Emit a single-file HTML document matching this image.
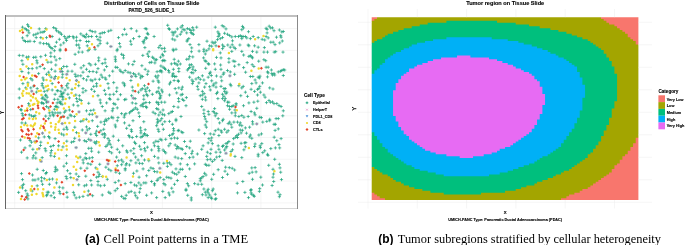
<!DOCTYPE html>
<html><head><meta charset="utf-8"><title>Figure</title>
<style>html,body{margin:0;padding:0;background:#fff}svg{display:block}</style>
</head><body>
<svg width="685" height="245" viewBox="0 0 685 245">
<rect x="0" y="0" width="685" height="245" fill="#fff"/>
<path d="M14.7,15.7V208.5M64,15.7V208.5M113.2,15.7V208.5M162.4,15.7V208.5M211.7,15.7V208.5M260.9,15.7V208.5M5.5,28.6H297.5M5.5,50.4H297.5M5.5,72.2H297.5M5.5,94H297.5M5.5,115.8H297.5M5.5,137.5H297.5M5.5,159.3H297.5M5.5,181.1H297.5M5.5,202.9H297.5" stroke="#ececec" stroke-width="0.5" fill="none"/>
<path d="M20.9,27.2h3.2M22.5,25.6v3.2M26,24.7h3.2M27.6,23.1v3.2M27,26.4h3.2M28.6,24.8v3.2M23.4,28.6h3.2M25,27v3.2M24.9,29.7h3.2M26.5,28.1v3.2M26.6,30.7h3.2M28.2,29.1v3.2M27.4,32.9h3.2M29,31.3v3.2M25.6,35.7h3.2M27.2,34.1v3.2M20.9,37.9h3.2M22.5,36.3v3.2M22.4,40.5h3.2M24,38.9v3.2M23.9,41.5h3.2M25.5,39.9v3.2M26.3,41.5h3.2M27.9,39.9v3.2M28.4,41.2h3.2M30,39.6v3.2M32.7,41.5h3.2M34.3,39.9v3.2M32,35h3.2M33.6,33.4v3.2M34.2,34.3h3.2M35.8,32.7v3.2M36.3,33.3h3.2M37.9,31.7v3.2M34.6,37.6h3.2M36.2,36v3.2M37.7,28.9h3.2M39.3,27.3v3.2M39.2,32.2h3.2M40.8,30.6v3.2M41.3,32.2h3.2M42.9,30.6v3.2M39.2,37.6h3.2M40.8,36v3.2M44.2,28.6h3.2M45.8,27v3.2M42.7,31.5h3.2M44.3,29.9v3.2M44.9,37.6h3.2M46.5,36v3.2M50.6,36.5h3.2M52.2,34.9v3.2M52,27.6h3.2M53.6,26v3.2M54.2,28.6h3.2M55.8,27v3.2M54.9,30.7h3.2M56.5,29.1v3.2M57,31.9h3.2M58.6,30.3v3.2M58.5,32.9h3.2M60.1,31.3v3.2M59.9,34.3h3.2M61.5,32.7v3.2M57.8,39.3h3.2M59.4,37.7v3.2M54.9,42.2h3.2M56.5,40.6v3.2M38.5,42.9h3.2M40.1,41.3v3.2M42,43.6h3.2M43.6,42v3.2M44.9,43.6h3.2M46.5,42v3.2M47,44.3h3.2M48.6,42.7v3.2M47.8,46.2h3.2M49.4,44.6v3.2M49.2,47.6h3.2M50.8,46v3.2M50.6,48.6h3.2M52.2,47v3.2M53.5,46.5h3.2M55.1,44.9v3.2M59.2,45h3.2M60.8,43.4v3.2M62.1,42.9h3.2M63.7,41.3v3.2M62.8,36.5h3.2M64.4,34.9v3.2M64.2,38.6h3.2M65.8,37v3.2M64.9,40.5h3.2M66.5,38.9v3.2M66.3,37.2h3.2M67.9,35.6v3.2M67.8,36.5h3.2M69.4,34.9v3.2M71.4,36.5h3.2M73,34.9v3.2M72.1,37.9h3.2M73.7,36.3v3.2M74.9,37.2h3.2M76.5,35.6v3.2M74.9,40.8h3.2M76.5,39.2v3.2M78.5,40.5h3.2M80.1,38.9v3.2M74.9,45h3.2M76.5,43.4v3.2M77.1,45h3.2M78.7,43.4v3.2M77.8,47.9h3.2M79.4,46.3v3.2M79.2,33.9h3.2M80.8,32.3v3.2M81.4,35.7h3.2M83,34.1v3.2M82.8,36.5h3.2M84.4,34.9v3.2M84.2,37.2h3.2M85.8,35.6v3.2M84.9,34.3h3.2M86.5,32.7v3.2M87.1,36.5h3.2M88.7,34.9v3.2M90,36.5h3.2M91.6,34.9v3.2M88.5,30.5h3.2M90.1,28.9v3.2M90.7,31.5h3.2M92.3,29.9v3.2M93.5,31.9h3.2M95.1,30.3v3.2M95,36.5h3.2M96.6,34.9v3.2M98.5,33.6h3.2M100.1,32v3.2M100.7,32.9h3.2M102.3,31.3v3.2M98.5,37.2h3.2M100.1,35.6v3.2M96.4,39.6h3.2M98,38v3.2M98.5,40.8h3.2M100.1,39.2v3.2M84.9,41.5h3.2M86.5,39.9v3.2M87.1,41.5h3.2M88.7,39.9v3.2M85.7,45.8h3.2M87.3,44.2v3.2M87.8,49.3h3.2M89.4,47.7v3.2M96.4,45.8h3.2M98,44.2v3.2M98.5,43.6h3.2M100.1,42v3.2M93.5,49.3h3.2M95.1,47.7v3.2M58.5,49.3h3.2M60.1,47.7v3.2M102.8,32.5h3.2M104.4,30.9v3.2M106.8,31.2h3.2M108.4,29.6v3.2M109.3,30.3h3.2M110.9,28.7v3.2M105.7,43.2h3.2M107.3,41.6v3.2M116.9,37.6h3.2M118.5,36v3.2M117.9,43.6h3.2M119.5,42v3.2M118.6,46.8h3.2M120.2,45.2v3.2M121.1,34.7h3.2M122.7,33.1v3.2M122.9,29.3h3.2M124.5,27.7v3.2M124.7,34.3h3.2M126.3,32.7v3.2M129.6,28.6h3.2M131.2,27v3.2M128.9,41.2h3.2M130.5,39.6v3.2M129.6,44.3h3.2M131.2,42.7v3.2M131.9,38.6h3.2M133.5,37v3.2M135,31h3.2M136.6,29.4v3.2M137.6,36.5h3.2M139.2,34.9v3.2M143.6,28.6h3.2M145.2,27v3.2M145,29h3.2M146.6,27.4v3.2M145.8,33.3h3.2M147.4,31.7v3.2M146.5,34.3h3.2M148.1,32.7v3.2M144.3,37.6h3.2M145.9,36v3.2M145,38.3h3.2M146.6,36.7v3.2M142.9,40h3.2M144.5,38.4v3.2M141.5,41.5h3.2M143.1,39.9v3.2M142.2,42.9h3.2M143.8,41.3v3.2M143.3,47.6h3.2M144.9,46v3.2M152.5,36.5h3.2M154.1,34.9v3.2M158.6,45.5h3.2M160.2,43.9v3.2M157.2,47.6h3.2M158.8,46v3.2M160.3,48.6h3.2M161.9,47v3.2M162.9,48.3h3.2M164.5,46.7v3.2M166.1,25.3h3.2M167.7,23.7v3.2M167.2,28.6h3.2M168.8,27v3.2M167.9,29.3h3.2M169.5,27.7v3.2M170.5,32.2h3.2M172.1,30.6v3.2M172.2,32.9h3.2M173.8,31.3v3.2M173.6,31.9h3.2M175.2,30.3v3.2M171.5,35h3.2M173.1,33.4v3.2M175.8,28.9h3.2M177.4,27.3v3.2M179.4,27.2h3.2M181,25.6v3.2M180.8,25.7h3.2M182.4,24.1v3.2M181.5,29.3h3.2M183.1,27.7v3.2M183.2,30h3.2M184.8,28.4v3.2M180.1,31.9h3.2M181.7,30.3v3.2M178.7,34.3h3.2M180.3,32.7v3.2M175.5,36.2h3.2M177.1,34.6v3.2M170.8,39h3.2M172.4,37.4v3.2M173.2,40h3.2M174.8,38.4v3.2M185.8,28.6h3.2M187.4,27v3.2M185.1,32.9h3.2M186.7,31.3v3.2M188,29.3h3.2M189.6,27.7v3.2M189.4,30.5h3.2M191,28.9v3.2M191.1,27.6h3.2M192.7,26v3.2M192,30h3.2M193.6,28.4v3.2M195.1,27.2h3.2M196.7,25.6v3.2M189.4,32.5h3.2M191,30.9v3.2M190.4,33.6h3.2M192,32v3.2M191.8,34.3h3.2M193.4,32.7v3.2M187.2,38.6h3.2M188.8,37v3.2M185.8,40h3.2M187.4,38.4v3.2M185.4,41.2h3.2M187,39.6v3.2M188.4,44.6h3.2M190,43v3.2M190.1,47.9h3.2M191.7,46.3v3.2M197.3,44.6h3.2M198.9,43v3.2M171.5,49.3h3.2M173.1,47.7v3.2M174.4,49.3h3.2M176,47.7v3.2M115.7,49.3h3.2M117.3,47.7v3.2M213.7,27.2h3.2M215.3,25.6v3.2M220.6,25.7h3.2M222.2,24.1v3.2M222.3,26.7h3.2M223.9,25.1v3.2M224.4,28.9h3.2M226,27.3v3.2M216.3,31.9h3.2M217.9,30.3v3.2M217.3,33.6h3.2M218.9,32v3.2M217.7,35h3.2M219.3,33.4v3.2M216.6,36.5h3.2M218.2,34.9v3.2M223,33.3h3.2M224.6,31.7v3.2M225.9,34.3h3.2M227.5,32.7v3.2M228,35.5h3.2M229.6,33.9v3.2M230.2,36.9h3.2M231.8,35.3v3.2M220.9,37.6h3.2M222.5,36v3.2M218.7,38.6h3.2M220.3,37v3.2M215.9,39.6h3.2M217.5,38v3.2M205.4,41.2h3.2M207,39.6v3.2M210.6,42.2h3.2M212.2,40.6v3.2M212.3,43.2h3.2M213.9,41.6v3.2M213.7,42.2h3.2M215.3,40.6v3.2M208,45.8h3.2M209.6,44.2v3.2M210.1,46.2h3.2M211.7,44.6v3.2M214.4,45.8h3.2M216,44.2v3.2M207.3,48.9h3.2M208.9,47.3v3.2M220.9,45h3.2M222.5,43.4v3.2M222.3,46.5h3.2M223.9,44.9v3.2M220.9,48.6h3.2M222.5,47v3.2M226.2,45h3.2M227.8,43.4v3.2M228.7,47.2h3.2M230.3,45.6v3.2M230.6,44.8h3.2M232.2,43.2v3.2M230.9,40.8h3.2M232.5,39.2v3.2M232.3,47.2h3.2M233.9,45.6v3.2M233.7,48.6h3.2M235.3,47v3.2M233.7,36.5h3.2M235.3,34.9v3.2M236.9,36.5h3.2M238.5,34.9v3.2M238.7,35.7h3.2M240.3,34.1v3.2M240.2,36.5h3.2M241.8,34.9v3.2M241.6,36.5h3.2M243.2,34.9v3.2M240.2,38.6h3.2M241.8,37v3.2M243.8,36.5h3.2M245.4,34.9v3.2M245.2,37.9h3.2M246.8,36.3v3.2M248.8,38.6h3.2M250.4,37v3.2M240.9,26.4h3.2M242.5,24.8v3.2M241.9,27.9h3.2M243.5,26.3v3.2M240.2,29.7h3.2M241.8,28.1v3.2M246.9,31.7h3.2M248.5,30.1v3.2M238.3,45h3.2M239.9,43.4v3.2M246.6,45h3.2M248.2,43.4v3.2M247.3,45.8h3.2M248.9,44.2v3.2M253,45.8h3.2M254.6,44.2v3.2M256.6,47.2h3.2M258.2,45.6v3.2M262.8,47.6h3.2M264.4,46v3.2M251.6,36.5h3.2M253.2,34.9v3.2M256.6,37.6h3.2M258.2,36v3.2M260.6,39.3h3.2M262.2,37.7v3.2M263.1,40h3.2M264.7,38.4v3.2M264.5,36.5h3.2M266.1,34.9v3.2M266.6,37.9h3.2M268.2,36.3v3.2M265.5,32.9h3.2M267.1,31.3v3.2M264.5,28.3h3.2M266.1,26.7v3.2M265.5,29.3h3.2M267.1,27.7v3.2M267.6,26.2h3.2M269.2,24.6v3.2M269.1,27.9h3.2M270.7,26.3v3.2M270.9,27.9h3.2M272.5,26.3v3.2M272.4,30.7h3.2M274,29.1v3.2M277.8,30h3.2M279.4,28.4v3.2M280.2,31.9h3.2M281.8,30.3v3.2M281.7,31.5h3.2M283.3,29.9v3.2M279.1,35.7h3.2M280.7,34.1v3.2M274.9,37.2h3.2M276.5,35.6v3.2M279.5,37.2h3.2M281.1,35.6v3.2M280.7,41h3.2M282.3,39.4v3.2M278.1,42.9h3.2M279.7,41.3v3.2M269.2,42.2h3.2M270.8,40.6v3.2M271.6,42.2h3.2M273.2,40.6v3.2M273.4,44.6h3.2M275,43v3.2M202.3,49.3h3.2M203.9,47.7v3.2M17.7,55.4h3.2M19.3,53.8v3.2M21.3,55.7h3.2M22.9,54.1v3.2M24.9,57.2h3.2M26.5,55.6v3.2M27,56.9h3.2M28.6,55.3v3.2M32,57.4h3.2M33.6,55.8v3.2M34.2,57.2h3.2M35.8,55.6v3.2M39.2,56.7h3.2M40.8,55.1v3.2M43.9,55.3h3.2M45.5,53.7v3.2M49.2,52.9h3.2M50.8,51.3v3.2M49.2,56.4h3.2M50.8,54.8v3.2M52.8,50.7h3.2M54.4,49.1v3.2M53,56.9h3.2M54.6,55.3v3.2M54.5,60h3.2M56.1,58.4v3.2M58.2,58.6h3.2M59.8,57v3.2M58.5,50.7h3.2M60.1,49.1v3.2M20.3,60.7h3.2M21.9,59.1v3.2M21.3,64.3h3.2M22.9,62.7v3.2M35.2,60.7h3.2M36.8,59.1v3.2M35.6,62.9h3.2M37.2,61.3v3.2M35.2,67.9h3.2M36.8,66.3v3.2M38.5,66.5h3.2M40.1,64.9v3.2M42.7,68.6h3.2M44.3,67v3.2M46.3,62.2h3.2M47.9,60.6v3.2M49.5,62.2h3.2M51.1,60.6v3.2M54.2,65h3.2M55.8,63.4v3.2M49.9,69.3h3.2M51.5,67.7v3.2M53.5,71.2h3.2M55.1,69.6v3.2M30.6,68.6h3.2M32.2,67v3.2M27,68.6h3.2M28.6,67v3.2M20.3,71.5h3.2M21.9,69.9v3.2M27,72.9h3.2M28.6,71.3v3.2M29.2,78.6h3.2M30.8,77v3.2M30.6,80h3.2M32.2,78.4v3.2M26.3,82.9h3.2M27.9,81.3v3.2M37,73.6h3.2M38.6,72v3.2M44.9,74.3h3.2M46.5,72.7v3.2M47,72.2h3.2M48.6,70.6v3.2M41.3,77.9h3.2M42.9,76.3v3.2M42,80h3.2M43.6,78.4v3.2M40.6,83.6h3.2M42.2,82v3.2M47.8,75h3.2M49.4,73.4v3.2M49.6,77.2h3.2M51.2,75.6v3.2M53.8,76.5h3.2M55.4,74.9v3.2M59.9,68.6h3.2M61.5,67v3.2M62.1,66.5h3.2M63.7,64.9v3.2M65.2,66.5h3.2M66.8,64.9v3.2M60.6,71.5h3.2M62.2,69.9v3.2M61.1,74.3h3.2M62.7,72.7v3.2M60.6,77.2h3.2M62.2,75.6v3.2M66.3,71.2h3.2M67.9,69.6v3.2M70.4,71.2h3.2M72,69.6v3.2M73.2,64.3h3.2M74.8,62.7v3.2M73.5,54.3h3.2M75.1,52.7v3.2M77.1,52.1h3.2M78.7,50.5v3.2M80.7,52.1h3.2M82.3,50.5v3.2M86.4,50.7h3.2M88,49.1v3.2M82.1,65.7h3.2M83.7,64.1v3.2M79.5,67.9h3.2M81.1,66.3v3.2M81.4,72.2h3.2M83,70.6v3.2M84.9,69.3h3.2M86.5,67.7v3.2M87.5,63.6h3.2M89.1,62v3.2M89.2,65h3.2M90.8,63.4v3.2M93.8,64.3h3.2M95.4,62.7v3.2M97.1,57.9h3.2M98.7,56.3v3.2M97.1,60.7h3.2M98.7,59.1v3.2M100.7,63.6h3.2M102.3,62v3.2M96.4,68.6h3.2M98,67v3.2M95,72.2h3.2M96.6,70.6v3.2M91.4,71.5h3.2M93,69.9v3.2M87.8,71.5h3.2M89.4,69.9v3.2M73.5,74.3h3.2M75.1,72.7v3.2M74.2,76.5h3.2M75.8,74.9v3.2M76.4,75.8h3.2M78,74.2v3.2M79.2,75.8h3.2M80.8,74.2v3.2M81.8,78.6h3.2M83.4,77v3.2M84.9,80h3.2M86.5,78.4v3.2M86.4,76.5h3.2M88,74.9v3.2M89.2,80h3.2M90.8,78.4v3.2M90.7,80.8h3.2M92.3,79.2v3.2M93.5,79.3h3.2M95.1,77.7v3.2M97.8,79.3h3.2M99.4,77.7v3.2M99.5,75h3.2M101.1,73.4v3.2M100.7,77.2h3.2M102.3,75.6v3.2M66.3,83.6h3.2M67.9,82v3.2M95,83.6h3.2M96.6,82v3.2M50.6,83.6h3.2M52.2,82v3.2M21.3,83.6h3.2M22.9,82v3.2M103.5,59.3h3.2M105.1,57.7v3.2M103.5,62.9h3.2M105.1,61.3v3.2M105,66.5h3.2M106.6,64.9v3.2M102.8,70h3.2M104.4,68.4v3.2M107.8,75.8h3.2M109.4,74.2v3.2M103.5,77.9h3.2M105.1,76.3v3.2M104.3,79.3h3.2M105.9,77.7v3.2M106.4,83.6h3.2M108,82v3.2M112.1,82.6h3.2M113.7,81v3.2M111.1,71.2h3.2M112.7,69.6v3.2M113.6,56.9h3.2M115.2,55.3v3.2M113.8,59.3h3.2M115.4,57.7v3.2M114,61.2h3.2M115.6,59.6v3.2M114,67.2h3.2M115.6,65.6v3.2M115.7,67.5h3.2M117.3,65.9v3.2M115.4,50.7h3.2M117,49.1v3.2M120,54.3h3.2M121.6,52.7v3.2M121.9,55.4h3.2M123.5,53.8v3.2M121.9,57.9h3.2M123.5,56.3v3.2M118.3,70h3.2M119.9,68.4v3.2M119.3,71.5h3.2M120.9,69.9v3.2M121.4,72.6h3.2M123,71v3.2M123.6,70.5h3.2M125.2,68.9v3.2M126.4,72.2h3.2M128,70.6v3.2M128.6,72.9h3.2M130.2,71.3v3.2M121.4,82.9h3.2M123,81.3v3.2M122.9,84h3.2M124.5,82.4v3.2M126.9,63.9h3.2M128.5,62.3v3.2M131.2,64.6h3.2M132.8,63v3.2M132.6,61.4h3.2M134.2,59.8v3.2M131.9,73.6h3.2M133.5,72v3.2M133.6,74.8h3.2M135.2,73.2v3.2M134.3,76.5h3.2M135.9,74.9v3.2M129.3,80.5h3.2M130.9,78.9v3.2M137.2,74h3.2M138.8,72.4v3.2M139.3,75.8h3.2M140.9,74.2v3.2M141,76.5h3.2M142.6,74.9v3.2M139,77.9h3.2M140.6,76.3v3.2M140.3,65.7h3.2M141.9,64.1v3.2M141.2,55.4h3.2M142.8,53.8v3.2M143.6,69.3h3.2M145.2,67.7v3.2M146.5,71.2h3.2M148.1,69.6v3.2M145.8,74.3h3.2M147.4,72.7v3.2M146.9,56.4h3.2M148.5,54.8v3.2M147.5,51.7h3.2M149.1,50.1v3.2M145.8,54h3.2M147.4,52.4v3.2M148.2,62.6h3.2M149.8,61v3.2M150,62.2h3.2M151.6,60.6v3.2M150.8,57.2h3.2M152.4,55.6v3.2M152.2,58.3h3.2M153.8,56.7v3.2M153.6,60h3.2M155.2,58.4v3.2M155,59.7h3.2M156.6,58.1v3.2M153.3,62.9h3.2M154.9,61.3v3.2M151.5,81.2h3.2M153.1,79.6v3.2M153.9,76.2h3.2M155.5,74.6v3.2M155.5,77.9h3.2M157.1,76.3v3.2M156.5,75.8h3.2M158.1,74.2v3.2M156.5,80.8h3.2M158.1,79.2v3.2M157.2,82.2h3.2M158.8,80.6v3.2M155.5,71.7h3.2M157.1,70.1v3.2M158.3,71.2h3.2M159.9,69.6v3.2M159.3,70.5h3.2M160.9,68.9v3.2M160.1,71.9h3.2M161.7,70.3v3.2M159.3,66h3.2M160.9,64.4v3.2M161.5,67.2h3.2M163.1,65.6v3.2M162.9,68.3h3.2M164.5,66.7v3.2M163.9,69.3h3.2M165.5,67.7v3.2M160.8,60.7h3.2M162.4,59.1v3.2M162.2,60.3h3.2M163.8,58.7v3.2M163.2,60.7h3.2M164.8,59.1v3.2M158.9,57.2h3.2M160.5,55.6v3.2M160.8,54.3h3.2M162.4,52.7v3.2M161.5,55.7h3.2M163.1,54.1v3.2M163.2,51.4h3.2M164.8,49.8v3.2M166.9,70.5h3.2M168.5,68.9v3.2M167.5,72.2h3.2M169.1,70.6v3.2M169.8,63.9h3.2M171.4,62.3v3.2M172.9,63.2h3.2M174.5,61.6v3.2M174.4,63.9h3.2M176,62.3v3.2M175.8,65h3.2M177.4,63.4v3.2M178.7,64h3.2M180.3,62.4v3.2M176.8,61.2h3.2M178.4,59.6v3.2M172.6,59.3h3.2M174.2,57.7v3.2M171.8,50.7h3.2M173.4,49.1v3.2M171.8,69.3h3.2M173.4,67.7v3.2M177.2,68.6h3.2M178.8,67v3.2M177.2,71.5h3.2M178.8,69.9v3.2M171.5,73.6h3.2M173.1,72v3.2M171.2,75h3.2M172.8,73.4v3.2M170.8,76.2h3.2M172.4,74.6v3.2M172.9,76.5h3.2M174.5,74.9v3.2M174.4,76.5h3.2M176,74.9v3.2M172.5,80.5h3.2M174.1,78.9v3.2M176.5,80.5h3.2M178.1,78.9v3.2M176.8,81.5h3.2M178.4,79.9v3.2M168.9,82.2h3.2M170.5,80.6v3.2M167.9,84h3.2M169.5,82.4v3.2M185.8,70h3.2M187.4,68.4v3.2M187,68.6h3.2M188.6,67v3.2M188.2,67.5h3.2M189.8,65.9v3.2M188,65h3.2M189.6,63.4v3.2M189.8,64.7h3.2M191.4,63.1v3.2M191.5,66.9h3.2M193.1,65.3v3.2M191.2,69.3h3.2M192.8,67.7v3.2M193.7,70.5h3.2M195.3,68.9v3.2M187.2,58.9h3.2M188.8,57.3v3.2M188,56.4h3.2M189.6,54.8v3.2M185.1,59.3h3.2M186.7,57.7v3.2M191.2,56.9h3.2M192.8,55.3v3.2M189.8,51.7h3.2M191.4,50.1v3.2M197.5,51.1h3.2M199.1,49.5v3.2M189.8,72.6h3.2M191.4,71v3.2M191.5,72.9h3.2M193.1,71.3v3.2M188,77.2h3.2M189.6,75.6v3.2M190.4,80h3.2M192,78.4v3.2M191.5,81.5h3.2M193.1,79.9v3.2M194.4,79h3.2M196,77.4v3.2M196.8,77.6h3.2M198.4,76v3.2M198.7,79.3h3.2M200.3,77.7v3.2M197.3,82.9h3.2M198.9,81.3v3.2M190.8,83.6h3.2M192.4,82v3.2M202.3,51.4h3.2M203.9,49.8v3.2M205.1,50.7h3.2M206.7,49.1v3.2M203.7,54h3.2M205.3,52.4v3.2M202,57.9h3.2M203.6,56.3v3.2M203.4,60.7h3.2M205,59.1v3.2M204.4,61.4h3.2M206,59.8v3.2M206.6,63.6h3.2M208.2,62v3.2M207.3,64.3h3.2M208.9,62.7v3.2M204.1,68.3h3.2M205.7,66.7v3.2M208.7,72.2h3.2M210.3,70.6v3.2M208,73.6h3.2M209.6,72v3.2M200.8,75.8h3.2M202.4,74.2v3.2M206.6,77.2h3.2M208.2,75.6v3.2M209.7,75.5h3.2M211.3,73.9v3.2M202.3,80h3.2M203.9,78.4v3.2M210.1,80.8h3.2M211.7,79.2v3.2M204.4,83.6h3.2M206,82v3.2M212.3,84h3.2M213.9,82.4v3.2M214.4,82.9h3.2M216,81.3v3.2M214.9,76h3.2M216.5,74.4v3.2M219.4,76.9h3.2M221,75.3v3.2M220.1,80.8h3.2M221.7,79.2v3.2M213,63.9h3.2M214.6,62.3v3.2M213.7,69.3h3.2M215.3,67.7v3.2M214.9,57.4h3.2M216.5,55.8v3.2M219.4,57.9h3.2M221,56.3v3.2M218.7,52.9h3.2M220.3,51.3v3.2M219,65h3.2M220.6,63.4v3.2M219.4,69.3h3.2M221,67.7v3.2M222.3,72.9h3.2M223.9,71.3v3.2M221.6,74.3h3.2M223.2,72.7v3.2M225.9,70.5h3.2M227.5,68.9v3.2M228.7,71.9h3.2M230.3,70.3v3.2M227.3,62.2h3.2M228.9,60.6v3.2M227.3,58.6h3.2M228.9,57v3.2M231.6,61h3.2M233.2,59.4v3.2M233.3,61.4h3.2M234.9,59.8v3.2M233,66.2h3.2M234.6,64.6v3.2M237.3,64.7h3.2M238.9,63.1v3.2M233,74.3h3.2M234.6,72.7v3.2M230.2,51.4h3.2M231.8,49.8v3.2M240.2,51.4h3.2M241.8,49.8v3.2M242,55h3.2M243.6,53.4v3.2M242,67.6h3.2M243.6,66v3.2M244,72.2h3.2M245.6,70.6v3.2M245.6,62.6h3.2M247.2,61v3.2M247.3,56.4h3.2M248.9,54.8v3.2M248.8,55.7h3.2M250.4,54.1v3.2M250.2,56.9h3.2M251.8,55.3v3.2M250.9,57.9h3.2M252.5,56.3v3.2M250.6,64.7h3.2M252.2,63.1v3.2M252.3,66.5h3.2M253.9,64.9v3.2M250.9,51.4h3.2M252.5,49.8v3.2M255.2,52.1h3.2M256.8,50.5v3.2M257.1,61.2h3.2M258.7,59.6v3.2M262.3,59.7h3.2M263.9,58.1v3.2M264.1,60.7h3.2M265.7,59.1v3.2M262.3,52.1h3.2M263.9,50.5v3.2M265.9,52.1h3.2M267.5,50.5v3.2M272.6,52.1h3.2M274.2,50.5v3.2M274.1,51.7h3.2M275.7,50.1v3.2M281.4,52.1h3.2M283,50.5v3.2M264.5,67.2h3.2M266.1,65.6v3.2M266.6,67.2h3.2M268.2,65.6v3.2M269.8,70h3.2M271.4,68.4v3.2M265.9,71.9h3.2M267.5,70.3v3.2M266.6,72.9h3.2M268.2,71.3v3.2M270.2,73.6h3.2M271.8,72v3.2M270.9,75h3.2M272.5,73.4v3.2M272.4,73.6h3.2M274,72v3.2M273.1,75h3.2M274.7,73.4v3.2M265.9,76.9h3.2M267.5,75.3v3.2M276.7,71.9h3.2M278.3,70.3v3.2M278.8,71.2h3.2M280.4,69.6v3.2M280.2,70.5h3.2M281.8,68.9v3.2M281.7,69.7h3.2M283.3,68.1v3.2M283.1,70h3.2M284.7,68.4v3.2M281.7,75.5h3.2M283.3,73.9v3.2M248.8,76.5h3.2M250.4,74.9v3.2M251.2,76.5h3.2M252.8,74.9v3.2M256.6,77.2h3.2M258.2,75.6v3.2M257.8,77.9h3.2M259.4,76.3v3.2M258.3,76.2h3.2M259.9,74.6v3.2M253.5,80h3.2M255.1,78.4v3.2M250.2,83.6h3.2M251.8,82v3.2M254.5,82.9h3.2M256.1,81.3v3.2M260.9,82.9h3.2M262.5,81.3v3.2M228.7,84.3h3.2M230.3,82.7v3.2M17.7,89h3.2M19.3,87.4v3.2M17.7,97.9h3.2M19.3,96.3v3.2M19.1,109.6h3.2M20.7,108v3.2M20.6,113.6h3.2M22.2,112v3.2M27,103.6h3.2M28.6,102v3.2M27.7,114.8h3.2M29.3,113.2v3.2M29.9,115.8h3.2M31.5,114.2v3.2M32,116.5h3.2M33.6,114.9v3.2M29.2,87.9h3.2M30.8,86.3v3.2M35.6,88.6h3.2M37.2,87v3.2M40.6,85.7h3.2M42.2,84.1v3.2M42,87.9h3.2M43.6,86.3v3.2M45.6,90.7h3.2M47.2,89.1v3.2M50.6,90h3.2M52.2,88.4v3.2M41.3,97.2h3.2M42.9,95.6v3.2M44.2,95.7h3.2M45.8,94.1v3.2M45.6,97.2h3.2M47.2,95.6v3.2M42.7,99.3h3.2M44.3,97.7v3.2M44.2,100h3.2M45.8,98.4v3.2M44.9,102.2h3.2M46.5,100.6v3.2M39.9,102.9h3.2M41.5,101.3v3.2M42,103.6h3.2M43.6,102v3.2M44.9,106.5h3.2M46.5,104.9v3.2M47,107.9h3.2M48.6,106.3v3.2M47.8,112.9h3.2M49.4,111.3v3.2M48.5,115.8h3.2M50.1,114.2v3.2M50.6,112.2h3.2M52.2,110.6v3.2M52.8,99.3h3.2M54.4,97.7v3.2M56.3,99.3h3.2M57.9,97.7v3.2M53.5,94.3h3.2M55.1,92.7v3.2M55.6,90.7h3.2M57.2,89.1v3.2M59.2,91.4h3.2M60.8,89.8v3.2M59.9,94.3h3.2M61.5,92.7v3.2M58.5,96.4h3.2M60.1,94.8v3.2M60.6,96.4h3.2M62.2,94.8v3.2M61.3,99.3h3.2M62.9,97.7v3.2M59.2,101.9h3.2M60.8,100.3v3.2M58.9,103.6h3.2M60.5,102v3.2M55.6,102.9h3.2M57.2,101.3v3.2M53.8,106.5h3.2M55.4,104.9v3.2M56.3,107.2h3.2M57.9,105.6v3.2M52.8,109.3h3.2M54.4,107.7v3.2M62.8,112.2h3.2M64.4,110.6v3.2M64.2,110.8h3.2M65.8,109.2v3.2M67.8,110h3.2M69.4,108.4v3.2M68.5,115h3.2M70.1,113.4v3.2M69.6,115.8h3.2M71.2,114.2v3.2M66.3,117.9h3.2M67.9,116.3v3.2M72.8,116.5h3.2M74.4,114.9v3.2M71.8,105h3.2M73.4,103.4v3.2M76.4,105.7h3.2M78,104.1v3.2M75.6,101.5h3.2M77.2,99.9v3.2M77.8,99.3h3.2M79.4,97.7v3.2M79.7,100.5h3.2M81.3,98.9v3.2M74.9,98.6h3.2M76.5,97v3.2M74.2,95h3.2M75.8,93.4v3.2M77.8,95.7h3.2M79.4,94.1v3.2M81.4,92.2h3.2M83,90.6v3.2M81.4,88.6h3.2M83,87v3.2M84.2,90.7h3.2M85.8,89.1v3.2M77.1,85.7h3.2M78.7,84.1v3.2M70.4,89.3h3.2M72,87.7v3.2M64.9,85.7h3.2M66.5,84.1v3.2M66.3,87.9h3.2M67.9,86.3v3.2M63.5,90h3.2M65.1,88.4v3.2M62.1,92.9h3.2M63.7,91.3v3.2M66.3,94.3h3.2M67.9,92.7v3.2M67.8,97.9h3.2M69.4,96.3v3.2M87.1,103.3h3.2M88.7,101.7v3.2M84.9,110.8h3.2M86.5,109.2v3.2M89.2,110.5h3.2M90.8,108.9v3.2M92.1,110h3.2M93.7,108.4v3.2M87.8,114.3h3.2M89.4,112.7v3.2M90.7,114.3h3.2M92.3,112.7v3.2M96.4,95.7h3.2M98,94.1v3.2M98.5,100h3.2M100.1,98.4v3.2M99,102.9h3.2M100.6,101.3v3.2M100.7,106.5h3.2M102.3,104.9v3.2M92.8,91.4h3.2M94.4,89.8v3.2M90,89.3h3.2M91.6,87.7v3.2M92.1,86.4h3.2M93.7,84.8v3.2M95,86.1h3.2M96.6,84.5v3.2M84.7,119.3h3.2M86.3,117.7v3.2M53.5,112.9h3.2M55.1,111.3v3.2M52,115.8h3.2M53.6,114.2v3.2M58.5,112.9h3.2M60.1,111.3v3.2M102.8,90.4h3.2M104.4,88.8v3.2M107.1,88.1h3.2M108.7,86.5v3.2M104,94.3h3.2M105.6,92.7v3.2M108.3,94.7h3.2M109.9,93.1v3.2M112.1,94.3h3.2M113.7,92.7v3.2M115.3,87.9h3.2M116.9,86.3v3.2M115,91.4h3.2M116.6,89.8v3.2M118.9,94.7h3.2M120.5,93.1v3.2M107.8,98.6h3.2M109.4,97v3.2M108.6,99.3h3.2M110.2,97.7v3.2M105,102.9h3.2M106.6,101.3v3.2M112.1,103.6h3.2M113.7,102v3.2M113.6,104.3h3.2M115.2,102.7v3.2M116.4,99.3h3.2M118,97.7v3.2M122.9,99.7h3.2M124.5,98.1v3.2M124.3,99.3h3.2M125.9,97.7v3.2M115.7,107.9h3.2M117.3,106.3v3.2M111.4,108.6h3.2M113,107v3.2M110.7,110.8h3.2M112.3,109.2v3.2M103.5,110.8h3.2M105.1,109.2v3.2M110,117.2h3.2M111.6,115.6v3.2M111.4,117.9h3.2M113,116.3v3.2M107.1,118.6h3.2M108.7,117v3.2M104.3,119.3h3.2M105.9,117.7v3.2M116.4,117.6h3.2M118,116v3.2M120,113.6h3.2M121.6,112v3.2M122.9,115h3.2M124.5,113.4v3.2M122.6,117.2h3.2M124.2,115.6v3.2M124.3,113.6h3.2M125.9,112v3.2M127.9,112.9h3.2M129.5,111.3v3.2M129.3,111.5h3.2M130.9,109.9v3.2M130.7,110.5h3.2M132.3,108.9v3.2M132.2,109.3h3.2M133.8,107.7v3.2M134,107.9h3.2M135.6,106.3v3.2M135.7,109.3h3.2M137.3,107.7v3.2M137.2,112.9h3.2M138.8,111.3v3.2M137.9,116.5h3.2M139.5,114.9v3.2M130.7,102.9h3.2M132.3,101.3v3.2M134.3,103.6h3.2M135.9,102v3.2M130,95.7h3.2M131.6,94.1v3.2M133.6,98.6h3.2M135.2,97v3.2M130.7,87.1h3.2M132.3,85.5v3.2M131.4,90.7h3.2M133,89.1v3.2M136.9,92.2h3.2M138.5,90.6v3.2M139.3,90h3.2M140.9,88.4v3.2M140.7,88.6h3.2M142.3,87v3.2M143.6,89.3h3.2M145.2,87.7v3.2M142.9,85.7h3.2M144.5,84.1v3.2M145.8,87.9h3.2M147.4,86.3v3.2M144.3,91.4h3.2M145.9,89.8v3.2M145,94.3h3.2M146.6,92.7v3.2M146,95.7h3.2M147.6,94.1v3.2M142.2,95.7h3.2M143.8,94.1v3.2M150.8,94.3h3.2M152.4,92.7v3.2M147.9,90.7h3.2M149.5,89.1v3.2M142.2,99.3h3.2M143.8,97.7v3.2M139.3,105.7h3.2M140.9,104.1v3.2M140.7,104.3h3.2M142.3,102.7v3.2M142.2,103.3h3.2M143.8,101.7v3.2M144.3,102.5h3.2M145.9,100.9v3.2M147.9,102.6h3.2M149.5,101v3.2M144.3,106.5h3.2M145.9,104.9v3.2M145,107.6h3.2M146.6,106v3.2M141.5,106.5h3.2M143.1,104.9v3.2M155,102.2h3.2M156.6,100.6v3.2M156.5,102.6h3.2M158.1,101v3.2M156.9,104.3h3.2M158.5,102.7v3.2M159.8,102.2h3.2M161.4,100.6v3.2M163.2,102.2h3.2M164.8,100.6v3.2M158.3,98.6h3.2M159.9,97v3.2M158.6,97.2h3.2M160.2,95.6v3.2M159.1,95.7h3.2M160.7,94.1v3.2M157.9,93.6h3.2M159.5,92v3.2M155,92.2h3.2M156.6,90.6v3.2M156.5,91.4h3.2M158.1,89.8v3.2M160.1,90h3.2M161.7,88.4v3.2M160.8,91.9h3.2M162.4,90.3v3.2M157.2,87.9h3.2M158.8,86.3v3.2M167.9,95h3.2M169.5,93.4v3.2M155,108.6h3.2M156.6,107v3.2M156.5,109.3h3.2M158.1,107.7v3.2M161.5,110h3.2M163.1,108.4v3.2M158.6,112.2h3.2M160.2,110.6v3.2M151.5,112.2h3.2M153.1,110.6v3.2M153.6,113.6h3.2M155.2,112v3.2M157.2,115h3.2M158.8,113.4v3.2M160.8,114.3h3.2M162.4,112.7v3.2M162.9,115h3.2M164.5,113.4v3.2M160.1,118.6h3.2M161.7,117v3.2M167.2,113.6h3.2M168.8,112v3.2M169.4,112.2h3.2M171,110.6v3.2M170.8,111.5h3.2M172.4,109.9v3.2M172.2,106.5h3.2M173.8,104.9v3.2M176.5,107.2h3.2M178.1,105.6v3.2M184.4,105.7h3.2M186,104.1v3.2M177.2,101.5h3.2M178.8,99.9v3.2M176.9,98.6h3.2M178.5,97v3.2M180.8,99.3h3.2M182.4,97.7v3.2M182.2,100.5h3.2M183.8,98.9v3.2M184.8,97.6h3.2M186.4,96v3.2M179.4,95h3.2M181,93.4v3.2M180.8,94.3h3.2M182.4,92.7v3.2M180.1,89.3h3.2M181.7,87.7v3.2M180.8,87.1h3.2M182.4,85.5v3.2M177.2,87.9h3.2M178.8,86.3v3.2M173.6,88.6h3.2M175.2,87v3.2M175.1,92.9h3.2M176.7,91.3v3.2M179.4,116.5h3.2M181,114.9v3.2M195.8,86.4h3.2M197.4,84.8v3.2M196.5,89.3h3.2M198.1,87.7v3.2M198.7,95.7h3.2M200.3,94.1v3.2M122.9,85.7h3.2M124.5,84.1v3.2M155.8,119.3h3.2M157.4,117.7v3.2M174.4,119.3h3.2M176,117.7v3.2M203,87.1h3.2M204.6,85.5v3.2M208,86.7h3.2M209.6,85.1v3.2M208.7,90h3.2M210.3,88.4v3.2M200.8,91.4h3.2M202.4,89.8v3.2M202.5,93.6h3.2M204.1,92v3.2M200.8,95h3.2M202.4,93.4v3.2M203.7,97.2h3.2M205.3,95.6v3.2M200.8,99.3h3.2M202.4,97.7v3.2M204.1,100h3.2M205.7,98.4v3.2M200.1,106.5h3.2M201.7,104.9v3.2M202.3,110h3.2M203.9,108.4v3.2M206.6,111.5h3.2M208.2,109.9v3.2M202.3,113.6h3.2M203.9,112v3.2M207.3,114.3h3.2M208.9,112.7v3.2M203,116.5h3.2M204.6,114.9v3.2M203.7,119h3.2M205.3,117.4v3.2M211.6,85.7h3.2M213.2,84.1v3.2M214.4,87.1h3.2M216,85.5v3.2M215.9,92.2h3.2M217.5,90.6v3.2M214.9,93.6h3.2M216.5,92v3.2M216.3,98.6h3.2M217.9,97v3.2M213,108.6h3.2M214.6,107v3.2M211.6,111.5h3.2M213.2,109.9v3.2M213,112.9h3.2M214.6,111.3v3.2M215.1,113.6h3.2M216.7,112v3.2M213.7,115.8h3.2M215.3,114.2v3.2M216.6,118.6h3.2M218.2,117v3.2M221.6,119.3h3.2M223.2,117.7v3.2M219.4,86.4h3.2M221,84.8v3.2M222.3,88.6h3.2M223.9,87v3.2M223.7,88.6h3.2M225.3,87v3.2M223,91.4h3.2M224.6,89.8v3.2M225.2,92.2h3.2M226.8,90.6v3.2M224.4,93.6h3.2M226,92v3.2M220.9,94.3h3.2M222.5,92.7v3.2M222.3,96.4h3.2M223.9,94.8v3.2M220.9,98.6h3.2M222.5,97v3.2M223.7,98.6h3.2M225.3,97v3.2M223,100.7h3.2M224.6,99.1v3.2M225.9,102.2h3.2M227.5,100.6v3.2M227.3,102.2h3.2M228.9,100.6v3.2M225.9,105.7h3.2M227.5,104.1v3.2M228,106.5h3.2M229.6,104.9v3.2M230.2,106.5h3.2M231.8,104.9v3.2M231.6,105.7h3.2M233.2,104.1v3.2M234.5,103.6h3.2M236.1,102v3.2M234.5,105h3.2M236.1,103.4v3.2M228,109.3h3.2M229.6,107.7v3.2M233.4,110h3.2M235,108.4v3.2M230.2,112.9h3.2M231.8,111.3v3.2M233.7,112.9h3.2M235.3,111.3v3.2M233.7,115.8h3.2M235.3,114.2v3.2M237.3,116.5h3.2M238.9,114.9v3.2M240.2,115.5h3.2M241.8,113.9v3.2M242.3,117.2h3.2M243.9,115.6v3.2M239.2,95.7h3.2M240.8,94.1v3.2M243.8,92.2h3.2M245.4,90.6v3.2M245.9,96.4h3.2M247.5,94.8v3.2M240.2,87.9h3.2M241.8,86.3v3.2M241.6,86.4h3.2M243.2,84.8v3.2M237.3,85.7h3.2M238.9,84.1v3.2M229.4,85.7h3.2M231,84.1v3.2M249.5,89.3h3.2M251.1,87.7v3.2M253,91.4h3.2M254.6,89.8v3.2M255.9,89.3h3.2M257.5,87.7v3.2M257.3,88.6h3.2M258.9,87v3.2M258.1,86.4h3.2M259.7,84.8v3.2M258.8,92.2h3.2M260.4,90.6v3.2M255.9,95h3.2M257.5,93.4v3.2M247.3,102.9h3.2M248.9,101.3v3.2M252.3,102.2h3.2M253.9,100.6v3.2M256.2,101.2h3.2M257.8,99.6v3.2M241.9,105.7h3.2M243.5,104.1v3.2M255.2,108.3h3.2M256.8,106.7v3.2M249.5,111.5h3.2M251.1,109.9v3.2M252.8,112.9h3.2M254.4,111.3v3.2M253.5,114.8h3.2M255.1,113.2v3.2M246.6,116.5h3.2M248.2,114.9v3.2M258.1,117.2h3.2M259.7,115.6v3.2M259.8,117.6h3.2M261.4,116v3.2M262.3,95h3.2M263.9,93.4v3.2M263.5,97.2h3.2M265.1,95.6v3.2M267.4,100.5h3.2M269,98.9v3.2M264.9,102.6h3.2M266.5,101v3.2M268.8,102.2h3.2M270.4,100.6v3.2M270.9,101.9h3.2M272.5,100.3v3.2M272.4,103.6h3.2M274,102v3.2M275.2,103.6h3.2M276.8,102v3.2M277.4,105.5h3.2M279,103.9v3.2M279.5,106.5h3.2M281.1,104.9v3.2M281.7,110.8h3.2M283.3,109.2v3.2M281.2,115.8h3.2M282.8,114.2v3.2M268.1,87.9h3.2M269.7,86.3v3.2M271.4,89h3.2M273,87.4v3.2M274.5,118.6h3.2M276.1,117v3.2M276.7,118.6h3.2M278.3,117v3.2M268.1,119.3h3.2M269.7,117.7v3.2M20.3,122.9h3.2M21.9,121.3v3.2M23.9,123.1h3.2M25.5,121.5v3.2M18.9,140h3.2M20.5,138.4v3.2M28.4,140.5h3.2M30,138.9v3.2M29.9,142.2h3.2M31.5,140.6v3.2M28.4,145.8h3.2M30,144.2v3.2M23.4,147.9h3.2M25,146.3v3.2M19.9,152.2h3.2M21.5,150.6v3.2M31.3,149.3h3.2M32.9,147.7v3.2M34.2,152.9h3.2M35.8,151.3v3.2M39.2,142.2h3.2M40.8,140.6v3.2M38.9,145.5h3.2M40.5,143.9v3.2M43.5,148.6h3.2M45.1,147v3.2M44.2,150.8h3.2M45.8,149.2v3.2M49.2,146.5h3.2M50.8,144.9v3.2M51.8,145.5h3.2M53.4,143.9v3.2M49.9,150.5h3.2M51.5,148.9v3.2M49.2,152.9h3.2M50.8,151.3v3.2M57,145.8h3.2M58.6,144.2v3.2M61.3,146.9h3.2M62.9,145.3v3.2M53.5,138.6h3.2M55.1,137v3.2M47,136.5h3.2M48.6,134.9v3.2M48,137.9h3.2M49.6,136.3v3.2M42.7,136.9h3.2M44.3,135.3v3.2M37,137.9h3.2M38.6,136.3v3.2M59.9,134h3.2M61.5,132.4v3.2M62.1,135h3.2M63.7,133.4v3.2M65.2,141.2h3.2M66.8,139.6v3.2M69.9,142.2h3.2M71.5,140.6v3.2M73.1,138.3h3.2M74.7,136.7v3.2M72.1,141.5h3.2M73.7,139.9v3.2M82.8,140.7h3.2M84.4,139.1v3.2M84.7,141.5h3.2M86.3,139.9v3.2M87.1,139.3h3.2M88.7,137.7v3.2M85.7,130h3.2M87.3,128.4v3.2M74.9,132.6h3.2M76.5,131v3.2M80.7,130h3.2M82.3,128.4v3.2M73.2,127.2h3.2M74.8,125.6v3.2M64.9,127.2h3.2M66.5,125.6v3.2M65.6,129.3h3.2M67.2,127.7v3.2M62.3,129.3h3.2M63.9,127.7v3.2M84.9,126.9h3.2M86.5,125.3v3.2M87.8,128.6h3.2M89.4,127v3.2M89.2,134.3h3.2M90.8,132.7v3.2M93.8,133.6h3.2M95.4,132v3.2M95,135.5h3.2M96.6,133.9v3.2M95,131.2h3.2M96.6,129.6v3.2M96,126.4h3.2M97.6,124.8v3.2M99.3,122.1h3.2M100.9,120.5v3.2M99.3,130.7h3.2M100.9,129.1v3.2M100.7,134.3h3.2M102.3,132.7v3.2M92.8,142.2h3.2M94.4,140.6v3.2M95,141.7h3.2M96.6,140.1v3.2M94.2,143.6h3.2M95.8,142v3.2M87.1,148.3h3.2M88.7,146.7v3.2M89.7,148.3h3.2M91.3,146.7v3.2M90,151.2h3.2M91.6,149.6v3.2M84.2,153.6h3.2M85.8,152v3.2M79.2,121.4h3.2M80.8,119.8v3.2M81.4,120.7h3.2M83,119.1v3.2M90.7,120.7h3.2M92.3,119.1v3.2M97.1,152.2h3.2M98.7,150.6v3.2M102.8,121.4h3.2M104.4,119.8v3.2M105,120.7h3.2M106.6,119.1v3.2M102.8,124.3h3.2M104.4,122.7v3.2M102.1,129.3h3.2M103.7,127.7v3.2M102.8,133.6h3.2M104.4,132v3.2M103.5,135h3.2M105.1,133.4v3.2M102.8,137.2h3.2M104.4,135.6v3.2M106.4,138.6h3.2M108,137v3.2M107.8,140.7h3.2M109.4,139.1v3.2M107.1,142.9h3.2M108.7,141.3v3.2M108.6,144.3h3.2M110.2,142.7v3.2M105.7,145h3.2M107.3,143.4v3.2M104.3,146.5h3.2M105.9,144.9v3.2M110,147.2h3.2M111.6,145.6v3.2M107.8,151.5h3.2M109.4,149.9v3.2M110,152.9h3.2M111.6,151.3v3.2M111.7,136.2h3.2M113.3,134.6v3.2M113.6,125h3.2M115.2,123.4v3.2M114,126.9h3.2M115.6,125.3v3.2M115.7,120.7h3.2M117.3,119.1v3.2M116.9,140.3h3.2M118.5,138.7v3.2M121.1,145.8h3.2M122.7,144.2v3.2M115.7,149.3h3.2M117.3,147.7v3.2M117.9,152.2h3.2M119.5,150.6v3.2M122.9,122.9h3.2M124.5,121.3v3.2M125,128.3h3.2M126.6,126.7v3.2M127.6,125.4h3.2M129.2,123.8v3.2M129.7,129.7h3.2M131.3,128.1v3.2M130,131.4h3.2M131.6,129.8v3.2M127.2,135.5h3.2M128.8,133.9v3.2M127.9,136.9h3.2M129.5,135.3v3.2M130.7,137.5h3.2M132.3,135.9v3.2M135,136.5h3.2M136.6,134.9v3.2M132.9,142.2h3.2M134.5,140.6v3.2M134,143.6h3.2M135.6,142v3.2M125,150.8h3.2M126.6,149.2v3.2M125.7,152.2h3.2M127.3,150.6v3.2M129.3,150.8h3.2M130.9,149.2v3.2M132.2,148.6h3.2M133.8,147v3.2M132.2,153.6h3.2M133.8,152v3.2M137.9,146.2h3.2M139.5,144.6v3.2M139.3,149.3h3.2M140.9,147.7v3.2M142.9,148.6h3.2M144.5,147v3.2M143.6,150.8h3.2M145.2,149.2v3.2M145.8,147.2h3.2M147.4,145.6v3.2M142.9,142.6h3.2M144.5,141v3.2M138.9,127.9h3.2M140.5,126.3v3.2M139.3,130.7h3.2M140.9,129.1v3.2M139.3,132.9h3.2M140.9,131.3v3.2M143.6,129.7h3.2M145.2,128.1v3.2M142.9,133.6h3.2M144.5,132v3.2M142.2,135h3.2M143.8,133.4v3.2M144.3,135h3.2M145.9,133.4v3.2M145.8,135.5h3.2M147.4,133.9v3.2M139.3,137.2h3.2M140.9,135.6v3.2M140.7,136.5h3.2M142.3,134.9v3.2M142.2,121.7h3.2M143.8,120.1v3.2M150,150h3.2M151.6,148.4v3.2M152.2,142.9h3.2M153.8,141.3v3.2M152.9,145.8h3.2M154.5,144.2v3.2M154.3,141.2h3.2M155.9,139.6v3.2M156.5,141.5h3.2M158.1,139.9v3.2M158.6,139.3h3.2M160.2,137.7v3.2M160.1,140h3.2M161.7,138.4v3.2M156.5,146.5h3.2M158.1,144.9v3.2M157.2,148.6h3.2M158.8,147v3.2M157.2,150.8h3.2M158.8,149.2v3.2M161.5,150h3.2M163.1,148.4v3.2M162.9,151.5h3.2M164.5,149.9v3.2M164.1,152.9h3.2M165.7,151.3v3.2M155,125.7h3.2M156.6,124.1v3.2M155.8,122.9h3.2M157.4,121.3v3.2M156.5,121.4h3.2M158.1,119.8v3.2M158.6,120.7h3.2M160.2,119.1v3.2M160.8,124.3h3.2M162.4,122.7v3.2M156.5,129.3h3.2M158.1,127.7v3.2M157.2,131.4h3.2M158.8,129.8v3.2M161.8,129.3h3.2M163.4,127.7v3.2M163.2,121.7h3.2M164.8,120.1v3.2M167.9,121.4h3.2M169.5,119.8v3.2M170.8,124.3h3.2M172.4,122.7v3.2M171.9,128.6h3.2M173.5,127v3.2M172.2,130.7h3.2M173.8,129.1v3.2M171.5,133.6h3.2M173.1,132v3.2M170.5,134.7h3.2M172.1,133.1v3.2M167.9,135.5h3.2M169.5,133.9v3.2M169.6,138.6h3.2M171.2,137v3.2M172.9,137.9h3.2M174.5,136.3v3.2M175.8,138.3h3.2M177.4,136.7v3.2M176.5,130.7h3.2M178.1,129.1v3.2M177.2,130.3h3.2M178.8,128.7v3.2M179.8,131.9h3.2M181.4,130.3v3.2M181.2,132.6h3.2M182.8,131v3.2M164.1,139.3h3.2M165.7,137.7v3.2M168.6,143.6h3.2M170.2,142v3.2M167.2,145.8h3.2M168.8,144.2v3.2M173.6,145h3.2M175.2,143.4v3.2M175.8,146.5h3.2M177.4,144.9v3.2M177.2,147.9h3.2M178.8,146.3v3.2M175.1,148.6h3.2M176.7,147v3.2M179.4,148.6h3.2M181,147v3.2M180.8,149.3h3.2M182.4,147.7v3.2M182.9,141.5h3.2M184.5,139.9v3.2M188.7,141.2h3.2M190.3,139.6v3.2M185.1,146.5h3.2M186.7,144.9v3.2M188,147.9h3.2M189.6,146.3v3.2M190.8,151.2h3.2M192.4,149.6v3.2M190.1,153.6h3.2M191.7,152v3.2M195.8,154h3.2M197.4,152.4v3.2M197.3,130h3.2M198.9,128.4v3.2M174.4,120.7h3.2M176,119.1v3.2M183.7,153.6h3.2M185.3,152v3.2M131.4,120.7h3.2M133,119.1v3.2M205.1,121.7h3.2M206.7,120.1v3.2M203.7,125h3.2M205.3,123.4v3.2M204.8,127.2h3.2M206.4,125.6v3.2M203,133.6h3.2M204.6,132v3.2M208.7,133.9h3.2M210.3,132.3v3.2M207.3,138.6h3.2M208.9,137v3.2M210.1,137.9h3.2M211.7,136.3v3.2M209.4,140.7h3.2M211,139.1v3.2M206.6,142.9h3.2M208.2,141.3v3.2M210.8,143.6h3.2M212.4,142v3.2M201.5,145.8h3.2M203.1,144.2v3.2M200.1,149.3h3.2M201.7,147.7v3.2M209.4,149.3h3.2M211,147.7v3.2M205.8,152.2h3.2M207.4,150.6v3.2M208.7,153.6h3.2M210.3,152v3.2M213.7,130.7h3.2M215.3,129.1v3.2M212.3,134.3h3.2M213.9,132.7v3.2M216.6,129.3h3.2M218.2,127.7v3.2M217.3,135.5h3.2M218.9,133.9v3.2M219.4,130.7h3.2M221,129.1v3.2M220.1,132.2h3.2M221.7,130.6v3.2M223,129.3h3.2M224.6,127.7v3.2M226.6,130.7h3.2M228.2,129.1v3.2M225.2,132.2h3.2M226.8,130.6v3.2M218,122.9h3.2M219.6,121.3v3.2M220.9,120.7h3.2M222.5,119.1v3.2M226.6,123.6h3.2M228.2,122v3.2M228,122.1h3.2M229.6,120.5v3.2M229.4,124.3h3.2M231,122.7v3.2M230.2,127.2h3.2M231.8,125.6v3.2M232.3,122.1h3.2M233.9,120.5v3.2M235.9,122.1h3.2M237.5,120.5v3.2M238.7,122.9h3.2M240.3,121.3v3.2M238,125h3.2M239.6,123.4v3.2M240.2,125.7h3.2M241.8,124.1v3.2M243.8,127.9h3.2M245.4,126.3v3.2M248,127.2h3.2M249.6,125.6v3.2M251.2,124h3.2M252.8,122.4v3.2M250.9,121.7h3.2M252.5,120.1v3.2M238.7,130h3.2M240.3,128.4v3.2M240.9,130.3h3.2M242.5,128.7v3.2M239.5,132.9h3.2M241.1,131.3v3.2M236.9,134.3h3.2M238.5,132.7v3.2M235.2,135.5h3.2M236.8,133.9v3.2M234,137.2h3.2M235.6,135.6v3.2M232,138.6h3.2M233.6,137v3.2M235.9,137.5h3.2M237.5,135.9v3.2M244.9,133.2h3.2M246.5,131.6v3.2M248.8,135h3.2M250.4,133.4v3.2M248,136.9h3.2M249.6,135.3v3.2M250.2,138.3h3.2M251.8,136.7v3.2M257.3,135h3.2M258.9,133.4v3.2M259.9,133.9h3.2M261.5,132.3v3.2M261.2,122.1h3.2M262.8,120.5v3.2M265.2,121.4h3.2M266.8,119.8v3.2M268.1,120.7h3.2M269.7,119.1v3.2M272.4,124.3h3.2M274,122.7v3.2M273.8,124.3h3.2M275.4,122.7v3.2M273.5,130.4h3.2M275.1,128.8v3.2M276.7,128.9h3.2M278.3,127.3v3.2M272.6,137.2h3.2M274.2,135.6v3.2M279.5,138.6h3.2M281.1,137v3.2M275.2,140.7h3.2M276.8,139.1v3.2M277.4,144.6h3.2M279,143v3.2M273.8,147.9h3.2M275.4,146.3v3.2M278.1,147.9h3.2M279.7,146.3v3.2M269.2,148.6h3.2M270.8,147v3.2M263.1,150.8h3.2M264.7,149.2v3.2M261.2,152.6h3.2M262.8,151v3.2M265.9,154.3h3.2M267.5,152.7v3.2M260.2,143.6h3.2M261.8,142v3.2M258.5,145.8h3.2M260.1,144.2v3.2M258.8,147.6h3.2M260.4,146v3.2M253.5,144h3.2M255.1,142.4v3.2M253,146.5h3.2M254.6,144.9v3.2M244.2,142.6h3.2M245.8,141v3.2M243,142.9h3.2M244.6,141.3v3.2M239.5,143.3h3.2M241.1,141.7v3.2M243.8,146.8h3.2M245.4,145.2v3.2M242.3,149.8h3.2M243.9,148.2v3.2M231.6,144h3.2M233.2,142.4v3.2M227.3,141.5h3.2M228.9,139.9v3.2M225.9,142.9h3.2M227.5,141.3v3.2M224.4,143.6h3.2M226,142v3.2M221.6,145.5h3.2M223.2,143.9v3.2M220.9,146.5h3.2M222.5,144.9v3.2M225.2,146.5h3.2M226.8,144.9v3.2M224.4,147.9h3.2M226,146.3v3.2M216.6,145.8h3.2M218.2,144.2v3.2M217.3,149.3h3.2M218.9,147.7v3.2M214.4,152.2h3.2M216,150.6v3.2M218.7,152.2h3.2M220.3,150.6v3.2M223,150h3.2M224.6,148.4v3.2M229.4,151.5h3.2M231,149.9v3.2M230.9,149.8h3.2M232.5,148.2v3.2M256.6,154.3h3.2M258.2,152.7v3.2M25.6,157.9h3.2M27.2,156.3v3.2M31.3,157.9h3.2M32.9,156.3v3.2M34.2,158.1h3.2M35.8,156.5v3.2M32,155.7h3.2M33.6,154.1v3.2M40.6,157.6h3.2M42.2,156v3.2M49.2,155.7h3.2M50.8,154.1v3.2M52.8,156.4h3.2M54.4,154.8v3.2M64.9,155.7h3.2M66.5,154.1v3.2M64.9,163.3h3.2M66.5,161.7v3.2M62.3,166.2h3.2M63.9,164.6v3.2M53.8,167.2h3.2M55.4,165.6v3.2M54.2,169.3h3.2M55.8,167.7v3.2M55.6,170h3.2M57.2,168.4v3.2M53.5,171.5h3.2M55.1,169.9v3.2M44.9,172.5h3.2M46.5,170.9v3.2M44.2,173.6h3.2M45.8,172v3.2M41.7,170.5h3.2M43.3,168.9v3.2M35.6,169.3h3.2M37.2,167.7v3.2M30.9,175h3.2M32.5,173.4v3.2M19.9,173.6h3.2M21.5,172v3.2M20.9,179.6h3.2M22.5,178v3.2M31.3,180h3.2M32.9,178.4v3.2M33.4,180h3.2M35,178.4v3.2M36.6,179h3.2M38.2,177.4v3.2M39.9,177.6h3.2M41.5,176v3.2M42.7,178.6h3.2M44.3,177v3.2M39.9,181h3.2M41.5,179.4v3.2M47.8,179.3h3.2M49.4,177.7v3.2M50.9,179h3.2M52.5,177.4v3.2M40.9,184.3h3.2M42.5,182.7v3.2M35.6,185.8h3.2M37.2,184.2v3.2M47.8,184.3h3.2M49.4,182.7v3.2M54.9,182.9h3.2M56.5,181.3v3.2M22,184.3h3.2M23.6,182.7v3.2M20.6,185.8h3.2M22.2,184.2v3.2M20.9,187.9h3.2M22.5,186.3v3.2M57.8,187.2h3.2M59.4,185.6v3.2M61.3,187.9h3.2M62.9,186.3v3.2M65.9,170.7h3.2M67.5,169.1v3.2M68.5,173.6h3.2M70.1,172v3.2M64.5,176.5h3.2M66.1,174.9v3.2M65.2,178.6h3.2M66.8,177v3.2M69.2,177.6h3.2M70.8,176v3.2M77.1,176.5h3.2M78.7,174.9v3.2M79.2,168.2h3.2M80.8,166.6v3.2M74.6,174h3.2M76.2,172.4v3.2M81.4,160h3.2M83,158.4v3.2M81.7,162.9h3.2M83.3,161.3v3.2M83.5,157.9h3.2M85.1,156.3v3.2M84.9,158.6h3.2M86.5,157v3.2M87.8,158.1h3.2M89.4,156.5v3.2M90.7,157.6h3.2M92.3,156v3.2M86.4,163.6h3.2M88,162v3.2M89.2,164.3h3.2M90.8,162.7v3.2M85.4,168.2h3.2M87,166.6v3.2M84.2,176.2h3.2M85.8,174.6v3.2M84.9,185h3.2M86.5,183.4v3.2M82.8,185.8h3.2M84.4,184.2v3.2M77.1,184.8h3.2M78.7,183.2v3.2M90,185h3.2M91.6,183.4v3.2M89.2,180.5h3.2M90.8,178.9v3.2M94.2,167.9h3.2M95.8,166.3v3.2M98.1,164.3h3.2M99.7,162.7v3.2M96.4,172.2h3.2M98,170.6v3.2M97.8,174.3h3.2M99.4,172.7v3.2M95,177.2h3.2M96.6,175.6v3.2M97.1,176.5h3.2M98.7,174.9v3.2M100.7,176.5h3.2M102.3,174.9v3.2M96.4,181.5h3.2M98,179.9v3.2M96.4,185h3.2M98,183.4v3.2M99,185.8h3.2M100.6,184.2v3.2M78.5,157.1h3.2M80.1,155.5v3.2M115,157.1h3.2M116.6,155.5v3.2M117.1,160.7h3.2M118.7,159.1v3.2M120,160h3.2M121.6,158.4v3.2M121.4,161.9h3.2M123,160.3v3.2M115.7,165.7h3.2M117.3,164.1v3.2M120,164.7h3.2M121.6,163.1v3.2M124.3,165h3.2M125.9,163.4v3.2M125,163.6h3.2M126.6,162v3.2M127.9,165h3.2M129.5,163.4v3.2M123.6,168.6h3.2M125.2,167v3.2M123.6,170h3.2M125.2,168.4v3.2M129.3,160.7h3.2M130.9,159.1v3.2M134,157.1h3.2M135.6,155.5v3.2M134.3,162.9h3.2M135.9,161.3v3.2M136.5,160h3.2M138.1,158.4v3.2M137.9,163.3h3.2M139.5,161.7v3.2M140.7,163.6h3.2M142.3,162v3.2M140,155.7h3.2M141.6,154.1v3.2M142.9,160h3.2M144.5,158.4v3.2M147.2,160.7h3.2M148.8,159.1v3.2M152.9,156.4h3.2M154.5,154.8v3.2M156.5,157.9h3.2M158.1,156.3v3.2M157.2,162.9h3.2M158.8,161.3v3.2M162.2,163.3h3.2M163.8,161.7v3.2M165.8,162.9h3.2M167.4,161.3v3.2M167.9,162.9h3.2M169.5,161.3v3.2M165.8,166.4h3.2M167.4,164.8v3.2M169.4,164.7h3.2M171,163.1v3.2M173.6,157.1h3.2M175.2,155.5v3.2M176.5,158.1h3.2M178.1,156.5v3.2M180.1,158.6h3.2M181.7,157v3.2M178.7,163.9h3.2M180.3,162.3v3.2M185.8,164.7h3.2M187.4,163.1v3.2M188,157.6h3.2M189.6,156v3.2M191.5,157.1h3.2M193.1,155.5v3.2M193,163.9h3.2M194.6,162.3v3.2M188,168.9h3.2M189.6,167.3v3.2M180.8,169.3h3.2M182.4,167.7v3.2M178.7,169.3h3.2M180.3,167.7v3.2M174.4,168.9h3.2M176,167.3v3.2M177.2,172.2h3.2M178.8,170.6v3.2M172.9,173.6h3.2M174.5,172v3.2M170.8,172.2h3.2M172.4,170.6v3.2M175.1,174.3h3.2M176.7,172.7v3.2M183.7,176.5h3.2M185.3,174.9v3.2M165.1,177.2h3.2M166.7,175.6v3.2M167.2,177.6h3.2M168.8,176v3.2M169.4,178.2h3.2M171,176.6v3.2M158.6,177.6h3.2M160.2,176v3.2M156.5,179h3.2M158.1,177.4v3.2M155.5,180.5h3.2M157.1,178.9v3.2M162.2,179.6h3.2M163.8,178v3.2M162.2,183.6h3.2M163.8,182v3.2M163.6,184.8h3.2M165.2,183.2v3.2M175.8,180.5h3.2M177.4,178.9v3.2M150,181.5h3.2M151.6,179.9v3.2M144.3,182.9h3.2M145.9,181.3v3.2M142.2,182.9h3.2M143.8,181.3v3.2M137.2,182.9h3.2M138.8,181.3v3.2M132.9,185h3.2M134.5,183.4v3.2M129.3,182.5h3.2M130.9,180.9v3.2M117.1,180.8h3.2M118.7,179.2v3.2M113.6,182.5h3.2M115.2,180.9v3.2M105.7,179.3h3.2M107.3,177.7v3.2M102.8,185.3h3.2M104.4,183.7v3.2M123.6,183.6h3.2M125.2,182v3.2M135,185.8h3.2M136.6,184.2v3.2M139.3,185h3.2M140.9,183.4v3.2M138.6,188.6h3.2M140.2,187v3.2M152.9,183.6h3.2M154.5,182v3.2M152.9,185h3.2M154.5,183.4v3.2M170.1,188.2h3.2M171.7,186.6v3.2M172.9,184.3h3.2M174.5,182.7v3.2M185.8,183.6h3.2M187.4,182v3.2M187,185.8h3.2M188.6,184.2v3.2M193,183.6h3.2M194.6,182v3.2M196.5,184.3h3.2M198.1,182.7v3.2M198.7,178.6h3.2M200.3,177v3.2M198.7,180.8h3.2M200.3,179.2v3.2M184.4,189.3h3.2M186,187.7v3.2M115.7,188.6h3.2M117.3,187v3.2M104.3,167.2h3.2M105.9,165.6v3.2M107.1,169.3h3.2M108.7,167.7v3.2M109.3,170.7h3.2M110.9,169.1v3.2M114.3,172.2h3.2M115.9,170.6v3.2M117.9,173.3h3.2M119.5,171.7v3.2M131.9,173.3h3.2M133.5,171.7v3.2M135.3,171h3.2M136.9,169.4v3.2M141.5,168.9h3.2M143.1,167.3v3.2M147.2,170.5h3.2M148.8,168.9v3.2M149.3,167.9h3.2M150.9,166.3v3.2M151.5,168.6h3.2M153.1,167v3.2M152.9,171.5h3.2M154.5,169.9v3.2M155.5,171.9h3.2M157.1,170.3v3.2M145,175.7h3.2M146.6,174.1v3.2M137.5,177.2h3.2M139.1,175.6v3.2M205.1,156.4h3.2M206.7,154.8v3.2M205.8,159.7h3.2M207.4,158.1v3.2M208.7,159.3h3.2M210.3,157.7v3.2M210.8,161.4h3.2M212.4,159.8v3.2M213,159.7h3.2M214.6,158.1v3.2M215.1,157.1h3.2M216.7,155.5v3.2M218,156.4h3.2M219.6,154.8v3.2M220.6,160.4h3.2M222.2,158.8v3.2M233.4,156.4h3.2M235,154.8v3.2M240.2,157.6h3.2M241.8,156v3.2M256.6,156.1h3.2M258.2,154.5v3.2M266.4,155.4h3.2M268,153.8v3.2M273.1,159.3h3.2M274.7,157.7v3.2M203.7,164.3h3.2M205.3,162.7v3.2M205.1,165.3h3.2M206.7,163.7v3.2M207.3,165.3h3.2M208.9,163.7v3.2M203,173.3h3.2M204.6,171.7v3.2M204.4,175h3.2M206,173.4v3.2M201.5,176.5h3.2M203.1,174.9v3.2M200.1,177.9h3.2M201.7,176.3v3.2M210.1,179.3h3.2M211.7,177.7v3.2M212,174.3h3.2M213.6,172.7v3.2M216.6,169.7h3.2M218.2,168.1v3.2M220.9,177.5h3.2M222.5,175.9v3.2M223.4,171.2h3.2M225,169.6v3.2M225.9,174.3h3.2M227.5,172.7v3.2M224,167.2h3.2M225.6,165.6v3.2M227.7,167.6h3.2M229.3,166v3.2M230.6,168.3h3.2M232.2,166.7v3.2M233,170h3.2M234.6,168.4v3.2M250.2,167.9h3.2M251.8,166.3v3.2M253.5,167.6h3.2M255.1,166v3.2M250.6,172.2h3.2M252.2,170.6v3.2M254.5,171.9h3.2M256.1,170.3v3.2M247.6,173.3h3.2M249.2,171.7v3.2M250.9,179.3h3.2M252.5,177.7v3.2M241.2,181.5h3.2M242.8,179.9v3.2M235.6,183.3h3.2M237.2,181.7v3.2M259.2,177.2h3.2M260.8,175.6v3.2M260.9,185h3.2M262.5,183.4v3.2M258.1,188.6h3.2M259.7,187v3.2M249.5,189.6h3.2M251.1,188v3.2M267.1,165.3h3.2M268.7,163.7v3.2M277.8,164.3h3.2M279.4,162.7v3.2M278.4,167.9h3.2M280,166.3v3.2M271.4,169.3h3.2M273,167.7v3.2M279.1,172.2h3.2M280.7,170.6v3.2M271.9,174h3.2M273.5,172.4v3.2M271.4,177.2h3.2M273,175.6v3.2M272.1,181.5h3.2M273.7,179.9v3.2M270.5,185.5h3.2M272.1,183.9v3.2M279.9,179.6h3.2M281.5,178v3.2M200.1,184.3h3.2M201.7,182.7v3.2M211.6,189h3.2M213.2,187.4v3.2M206.6,189.3h3.2M208.2,187.7v3.2M202.3,189h3.2M203.9,187.4v3.2M24.1,190.7h3.2M25.7,189.1v3.2M17,192.4h3.2M18.6,190.8v3.2M25.6,193.9h3.2M27.2,192.3v3.2M26.3,195.7h3.2M27.9,194.1v3.2M24.9,197.2h3.2M26.5,195.6v3.2M26.3,198.9h3.2M27.9,197.3v3.2M30.6,191h3.2M32.2,189.4v3.2M45.6,192.2h3.2M47.2,190.6v3.2M47,192.2h3.2M48.6,190.6v3.2M45.6,194.7h3.2M47.2,193.1v3.2M44.9,195.7h3.2M46.5,194.1v3.2M49.5,195.7h3.2M51.1,194.1v3.2M52,192.9h3.2M53.6,191.3v3.2M52.8,197.6h3.2M54.4,196v3.2M57.8,191.4h3.2M59.4,189.8v3.2M58.5,193.6h3.2M60.1,192v3.2M65.2,192.4h3.2M66.8,190.8v3.2M65.6,197.2h3.2M67.2,195.6v3.2M71.8,192.4h3.2M73.4,190.8v3.2M72.8,195h3.2M74.4,193.4v3.2M74.5,197.9h3.2M76.1,196.3v3.2M77.8,197.2h3.2M79.4,195.6v3.2M81.4,196.4h3.2M83,194.8v3.2M86.8,191h3.2M88.4,189.4v3.2M86.4,195.3h3.2M88,193.7v3.2M91,195.7h3.2M92.6,194.1v3.2M100.7,195h3.2M102.3,193.4v3.2M107.1,192.2h3.2M108.7,190.6v3.2M108.6,193.3h3.2M110.2,191.7v3.2M113.6,190.7h3.2M115.2,189.1v3.2M120,196.4h3.2M121.6,194.8v3.2M122.1,198.2h3.2M123.7,196.6v3.2M123.6,198.6h3.2M125.2,197v3.2M124.6,195.3h3.2M126.2,193.7v3.2M127.2,192.2h3.2M128.8,190.6v3.2M129.6,191.4h3.2M131.2,189.8v3.2M133.2,192.9h3.2M134.8,191.3v3.2M134,195.7h3.2M135.6,194.1v3.2M135.7,197.9h3.2M137.3,196.3v3.2M137.9,192.2h3.2M139.5,190.6v3.2M145,195.3h3.2M146.6,193.7v3.2M150,192.9h3.2M151.6,191.3v3.2M155,197.6h3.2M156.6,196v3.2M161.2,191.4h3.2M162.8,189.8v3.2M163.6,197.6h3.2M165.2,196v3.2M167.2,192.9h3.2M168.8,191.3v3.2M167.9,195h3.2M169.5,193.4v3.2M171.5,191.9h3.2M173.1,190.3v3.2M184.4,190.4h3.2M186,188.8v3.2M186.1,195.3h3.2M187.7,193.7v3.2M189.7,197.9h3.2M191.3,196.3v3.2M189.7,200h3.2M191.3,198.4v3.2M200.8,194.7h3.2M202.4,193.1v3.2M203.7,192.2h3.2M205.3,190.6v3.2M204.4,195h3.2M206,193.4v3.2M205.8,191h3.2M207.4,189.4v3.2M206.6,192.9h3.2M208.2,191.3v3.2M208,195h3.2M209.6,193.4v3.2M206.6,197.6h3.2M208.2,196v3.2M209.4,197.2h3.2M211,195.6v3.2M210.1,198.6h3.2M211.7,197v3.2M210.8,190.7h3.2M212.4,189.1v3.2M213.7,194.3h3.2M215.3,192.7v3.2M214.4,198.6h3.2M216,197v3.2M213.7,199.3h3.2M215.3,197.7v3.2M235.9,192.9h3.2M237.5,191.3v3.2M243.3,192.4h3.2M244.9,190.8v3.2M249.2,190.4h3.2M250.8,188.8v3.2M249.5,192.9h3.2M251.1,191.3v3.2M250.2,194.3h3.2M251.8,192.7v3.2M246.9,197.6h3.2M248.5,196v3.2M252,195.3h3.2M253.6,193.7v3.2M252.6,196.4h3.2M254.2,194.8v3.2M257.8,191.4h3.2M259.4,189.8v3.2M276.4,192.2h3.2M278,190.6v3.2M278.4,194.7h3.2M280,193.1v3.2M277.8,196.7h3.2M279.4,195.1v3.2M24.1,87.9h3.2M25.7,86.3v3.2M32,86.1h3.2M33.6,84.5v3.2M34.8,92.1h3.2M36.4,90.5v3.2M42.7,91.4h3.2M44.3,89.8v3.2M44.1,95h3.2M45.7,93.4v3.2M40.5,98.6h3.2M42.1,97v3.2M40.5,102.9h3.2M42.1,101.3v3.2M27.7,105.7h3.2M29.3,104.1v3.2M19.8,110h3.2M21.4,108.4v3.2M29.1,109.6h3.2M30.7,108v3.2M21.3,115.7h3.2M22.9,114.1v3.2M33.4,115.7h3.2M35,114.1v3.2M44.1,116.1h3.2M45.7,114.5v3.2M60.5,87.9h3.2M62.1,86.3v3.2M56.3,90.7h3.2M57.9,89.1v3.2M60.5,93.6h3.2M62.1,92v3.2M61.3,97.1h3.2M62.9,95.5v3.2M57.7,102.1h3.2M59.3,100.5v3.2M60.5,104.3h3.2M62.1,102.7v3.2M54.8,106.4h3.2M56.4,104.8v3.2M56.3,112.9h3.2M57.9,111.3v3.2M61.3,116.4h3.2M62.9,114.8v3.2M51.3,114.3h3.2M52.9,112.7v3.2M47,118.6h3.2M48.6,117v3.2M109.3,46.5h3.2M110.9,44.9v3.2M59.2,71.5h3.2M60.8,69.9v3.2M65.2,74.3h3.2M66.8,72.7v3.2M52.8,78.6h3.2M54.4,77v3.2M74.9,80.5h3.2M76.5,78.9v3.2M130,76.5h3.2M131.6,74.9v3.2M228.3,75.8h3.2M229.9,74.2v3.2M30.2,91.2h3.2M31.8,89.6v3.2M46.3,101.9h3.2M47.9,100.3v3.2M77.4,111.9h3.2M79,110.3v3.2M95.2,116.8h3.2M96.8,115.2v3.2M131.7,98.2h3.2M133.3,96.6v3.2M60.6,123.6h3.2M62.2,122v3.2M40.9,133.2h3.2M42.5,131.6v3.2M84.2,132.9h3.2M85.8,131.3v3.2M89.2,140.3h3.2M90.8,138.7v3.2M77.8,140h3.2M79.4,138.4v3.2M74.5,147.6h3.2M76.1,146v3.2M37.4,148.6h3.2M39,147v3.2M33.4,141.5h3.2M35,139.9v3.2M255.2,123.9h3.2M256.8,122.3v3.2M224.4,153.3h3.2M226,151.7v3.2M39.5,161.4h3.2M41.1,159.8v3.2M75.4,179.6h3.2M77,178v3.2M106.4,163.9h3.2M108,162.3v3.2M158.3,168.3h3.2M159.9,166.7v3.2" stroke="#17a078" stroke-width="0.7" fill="none"/>
<path d="M109.8,45.4l2.2,2.2M109.8,47.6l2.2,-2.2M59.7,70.4l2.2,2.2M59.7,72.6l2.2,-2.2M65.7,73.2l2.2,2.2M65.7,75.4l2.2,-2.2M53.3,77.5l2.2,2.2M53.3,79.7l2.2,-2.2M75.4,79.4l2.2,2.2M75.4,81.6l2.2,-2.2M130.5,75.4l2.2,2.2M130.5,77.6l2.2,-2.2M228.8,74.7l2.2,2.2M228.8,76.9l2.2,-2.2M30.7,90.1l2.2,2.2M30.7,92.3l2.2,-2.2M46.8,100.8l2.2,2.2M46.8,103l2.2,-2.2M77.9,110.8l2.2,2.2M77.9,113l2.2,-2.2M95.7,115.7l2.2,2.2M95.7,117.9l2.2,-2.2M132.2,97.1l2.2,2.2M132.2,99.3l2.2,-2.2M61.1,122.5l2.2,2.2M61.1,124.7l2.2,-2.2M41.4,132.1l2.2,2.2M41.4,134.3l2.2,-2.2M84.7,131.8l2.2,2.2M84.7,134l2.2,-2.2M89.7,139.2l2.2,2.2M89.7,141.4l2.2,-2.2M78.3,138.9l2.2,2.2M78.3,141.1l2.2,-2.2M75,146.5l2.2,2.2M75,148.7l2.2,-2.2M37.9,147.5l2.2,2.2M37.9,149.7l2.2,-2.2M33.9,140.4l2.2,2.2M33.9,142.6l2.2,-2.2M255.7,122.8l2.2,2.2M255.7,125l2.2,-2.2M224.9,152.2l2.2,2.2M224.9,154.4l2.2,-2.2M40,160.3l2.2,2.2M40,162.5l2.2,-2.2M75.9,178.5l2.2,2.2M75.9,180.7l2.2,-2.2M106.9,162.8l2.2,2.2M106.9,165l2.2,-2.2M158.8,167.2l2.2,2.2M158.8,169.4l2.2,-2.2" stroke="#c56fb6" stroke-width="0.7" fill="none"/>
<path d="M20,31h0M22.2,29.7h0M31,27.9h0M46.5,29.6h0M42.9,38.6h0M92,44.3h0M89.4,48.2h0M255.1,39.3h0M263.5,36h0M213.2,49.3h0M27.9,59.3h0M46.5,60h0M32.2,64.3h0M26.5,66.5h0M20.5,69.3h0M59.8,68.9h0M19.7,76h0M26.5,77.9h0M25,79.3h0M21.5,80h0M32.2,75.5h0M49.1,75h0M58.6,77.2h0M57.9,78.6h0M66.5,77.9h0M69.7,80.3h0M46.5,80h0M50.5,80.8h0M78.7,82.2h0M75.8,84.3h0M27.9,84.3h0M138.1,84.6h0M228.9,52.9h0M213.2,50.3h0M251.4,70.7h0M258.7,68.6h0M239.3,83.9h0M27.9,85.7h0M26.5,89h0M23.3,91h0M22.2,93.6h0M22.9,95.7h0M26.7,93.2h0M29,93.6h0M30.8,95.7h0M32.9,97.2h0M35.8,98.6h0M37.2,100.7h0M38.6,102.2h0M37.9,103.6h0M34.3,104h0M32.9,104.7h0M30,105.7h0M30.8,100.5h0M27.2,108.6h0M25,110.8h0M36.2,112.2h0M39.3,113.6h0M35.8,118.6h0M32.9,119h0M29.3,118.6h0M38.6,91h0M40.8,90.7h0M41.5,95h0M45.8,86.4h0M47.9,85.7h0M55.4,87.1h0M48.6,89.3h0M65.8,98.9h0M65.1,103.6h0M69,106.9h0M63.9,108.6h0M56.8,109.6h0M49.4,110.5h0M81.5,103.6h0M93,96.2h0M71.5,92.9h0M74,95.7h0M75.1,87.9h0M76.5,114.3h0M95.1,113.2h0M100.4,85.7h0M83.7,119.3h0M60.1,118.6h0M138.1,85.4h0M236.8,110.3h0M24.3,125h0M21,126.9h0M27.2,125.4h0M30.8,125.4h0M32.9,126.4h0M35,123.6h0M34.3,124.7h0M40.1,128.2h0M41.1,125.7h0M44.8,123.6h0M50.8,123.1h0M51.1,126.4h0M55.4,127.2h0M55.8,124.3h0M58.6,122.1h0M59.4,120.7h0M65.1,122.9h0M69.4,122.9h0M75.1,121.1h0M88.7,121.4h0M55.1,129.7h0M58.6,129.7h0M59.1,132.9h0M49.4,132.6h0M45.1,130.3h0M37.2,133.2h0M35.8,136.5h0M24.7,137.5h0M35.3,142.6h0M47.9,142.9h0M66.8,134.3h0M73,130.3h0M78.7,133.2h0M79.1,136.2h0M63.9,143.3h0M66.5,146h0M66.8,149.6h0M61.5,150h0M58.2,149.8h0M55.1,153.6h0M37.2,149.3h0M98.7,142.2h0M99.7,145.5h0M248.9,147.9h0M230.8,154.3h0M40.1,160h0M59.1,158.6h0M76.2,156.4h0M78.2,158.1h0M77.2,161.9h0M73.7,166.7h0M76.2,169.7h0M97.3,168.9h0M73.7,178.2h0M73,185h0M56.8,179.6h0M46.8,180h0M54.4,187.6h0M31.9,186.2h0M20,187.6h0M30.8,189.3h0M37.9,189.3h0M43.3,189.3h0M126.6,157.6h0M148.5,159.3h0M167,161h0M109.4,160.4h0M115.6,168.6h0M160.2,172.6h0M133,176.5h0M106.1,176.7h0M103,176.5h0M230.6,155.4h0M274.4,171.2h0M30.8,190.4h0M31.9,194.7h0M36.5,193.9h0M42.5,192.9h0M42.9,194.7h0M43.3,196.2h0M21,198.9h0M84.4,191.7h0" stroke="#efd830" stroke-width="2.5" stroke-linecap="round" fill="none"/>
<path d="M22.9,31l1.5,1.5l-1.5,1.5l-1.5,-1.5zM49.8,34.2l1.5,1.5l-1.5,1.5l-1.5,-1.5zM50.1,35.2l1.5,1.5l-1.5,1.5l-1.5,-1.5zM94.4,45.7l1.5,1.5l-1.5,1.5l-1.5,-1.5zM65.8,47.8l1.5,1.5l-1.5,1.5l-1.5,-1.5zM218.9,45l1.5,1.5l-1.5,1.5l-1.5,-1.5zM42.6,63.2l1.5,1.5l-1.5,1.5l-1.5,-1.5zM35,74.3l1.5,1.5l-1.5,1.5l-1.5,-1.5zM36.5,75.3l1.5,1.5l-1.5,1.5l-1.5,-1.5zM23.6,75.4l1.5,1.5l-1.5,1.5l-1.5,-1.5zM58.6,81.1l1.5,1.5l-1.5,1.5l-1.5,-1.5zM65.8,48.8l1.5,1.5l-1.5,1.5l-1.5,-1.5zM148.5,82.5l1.5,1.5l-1.5,1.5l-1.5,-1.5zM261.4,66.8l1.5,1.5l-1.5,1.5l-1.5,-1.5zM34.3,84.2l1.5,1.5l-1.5,1.5l-1.5,-1.5zM61.5,84.2l1.5,1.5l-1.5,1.5l-1.5,-1.5zM33.6,92.5l1.5,1.5l-1.5,1.5l-1.5,-1.5zM18.6,105.7l1.5,1.5l-1.5,1.5l-1.5,-1.5zM21.9,104.5l1.5,1.5l-1.5,1.5l-1.5,-1.5zM27.2,109l1.5,1.5l-1.5,1.5l-1.5,-1.5zM32.9,107.5l1.5,1.5l-1.5,1.5l-1.5,-1.5zM37.9,104.2l1.5,1.5l-1.5,1.5l-1.5,-1.5zM38.2,106.4l1.5,1.5l-1.5,1.5l-1.5,-1.5zM43.3,106.4l1.5,1.5l-1.5,1.5l-1.5,-1.5zM44.3,107.8l1.5,1.5l-1.5,1.5l-1.5,-1.5zM50.5,105l1.5,1.5l-1.5,1.5l-1.5,-1.5zM52.9,101.4l1.5,1.5l-1.5,1.5l-1.5,-1.5zM25.5,113.3l1.5,1.5l-1.5,1.5l-1.5,-1.5zM23.6,116.7l1.5,1.5l-1.5,1.5l-1.5,-1.5zM22.2,117.8l1.5,1.5l-1.5,1.5l-1.5,-1.5zM43.6,117.5l1.5,1.5l-1.5,1.5l-1.5,-1.5zM57.6,114.3l1.5,1.5l-1.5,1.5l-1.5,-1.5zM61.1,115.7l1.5,1.5l-1.5,1.5l-1.5,-1.5zM63.9,115.3l1.5,1.5l-1.5,1.5l-1.5,-1.5zM72.5,110l1.5,1.5l-1.5,1.5l-1.5,-1.5zM135.2,89.7l1.5,1.5l-1.5,1.5l-1.5,-1.5zM235.5,105.4l1.5,1.5l-1.5,1.5l-1.5,-1.5zM45.8,119.6l1.5,1.5l-1.5,1.5l-1.5,-1.5zM43.3,124.9l1.5,1.5l-1.5,1.5l-1.5,-1.5zM43.9,126.4l1.5,1.5l-1.5,1.5l-1.5,-1.5zM21.5,128.5l1.5,1.5l-1.5,1.5l-1.5,-1.5zM22.5,129.7l1.5,1.5l-1.5,1.5l-1.5,-1.5zM27.9,127.8l1.5,1.5l-1.5,1.5l-1.5,-1.5zM28.6,129.2l1.5,1.5l-1.5,1.5l-1.5,-1.5zM33.6,127.8l1.5,1.5l-1.5,1.5l-1.5,-1.5zM26.5,132.8l1.5,1.5l-1.5,1.5l-1.5,-1.5zM28.6,133.2l1.5,1.5l-1.5,1.5l-1.5,-1.5zM31.5,132.4l1.5,1.5l-1.5,1.5l-1.5,-1.5zM22.2,135l1.5,1.5l-1.5,1.5l-1.5,-1.5zM27.9,136.4l1.5,1.5l-1.5,1.5l-1.5,-1.5zM29.6,137.1l1.5,1.5l-1.5,1.5l-1.5,-1.5zM39,132.8l1.5,1.5l-1.5,1.5l-1.5,-1.5zM36.8,139.7l1.5,1.5l-1.5,1.5l-1.5,-1.5zM58.6,140l1.5,1.5l-1.5,1.5l-1.5,-1.5zM23.6,148.5l1.5,1.5l-1.5,1.5l-1.5,-1.5zM99.1,130.7l1.5,1.5l-1.5,1.5l-1.5,-1.5zM29.3,172.1l1.5,1.5l-1.5,1.5l-1.5,-1.5zM61.9,180.7l1.5,1.5l-1.5,1.5l-1.5,-1.5zM84.8,169.2l1.5,1.5l-1.5,1.5l-1.5,-1.5zM92.3,159.9l1.5,1.5l-1.5,1.5l-1.5,-1.5zM93.7,173.2l1.5,1.5l-1.5,1.5l-1.5,-1.5zM34.3,187.5l1.5,1.5l-1.5,1.5l-1.5,-1.5zM107,158.5l1.5,1.5l-1.5,1.5l-1.5,-1.5zM108.4,159.2l1.5,1.5l-1.5,1.5l-1.5,-1.5zM115.2,159.9l1.5,1.5l-1.5,1.5l-1.5,-1.5zM115.6,168.5l1.5,1.5l-1.5,1.5l-1.5,-1.5zM118,169l1.5,1.5l-1.5,1.5l-1.5,-1.5zM120.9,183.5l1.5,1.5l-1.5,1.5l-1.5,-1.5zM21.9,194.7l1.5,1.5l-1.5,1.5l-1.5,-1.5zM26.2,195.7l1.5,1.5l-1.5,1.5l-1.5,-1.5zM24.7,198.1l1.5,1.5l-1.5,1.5l-1.5,-1.5zM63.4,192.4l1.5,1.5l-1.5,1.5l-1.5,-1.5zM90.1,192.8l1.5,1.5l-1.5,1.5l-1.5,-1.5z" fill="#e4452b"/>
<g shape-rendering="crispEdges"><rect x="5" y="15" width="293" height="2" fill="#c0c0c0"/><rect x="5" y="208" width="293" height="1" fill="#d6d6d6"/><rect x="5" y="15" width="1" height="194" fill="#666"/><rect x="297" y="15" width="1" height="194" fill="#8a8a8a"/></g>
<g>
<rect x="369.7" y="15.2" width="270.7" height="186.8" fill="#F8766D"/>
<path d="M377.03,14.2H601.06V19.03H377.03ZM374.37,19.03H603.73V20.86H374.37ZM368.7,20.86H606.4V22.68H368.7ZM368.7,22.68H609.06V24.51H368.7ZM368.7,24.51H614.4V26.34H368.7ZM368.7,26.34H617.06V28.17H368.7ZM368.7,28.17H619.73V30H368.7ZM368.7,30H622.4V31.82H368.7ZM368.7,31.82H625.06V33.65H368.7ZM368.7,33.65H627.73V37.31H368.7ZM368.7,37.31H630.4V39.14H368.7ZM368.7,39.14H633.07V40.96H368.7ZM368.7,40.96H635.73V44.62H368.7ZM368.7,44.62H641.4V137.85H368.7ZM368.7,137.85H635.73V143.33H368.7ZM368.7,143.33H633.07V146.99H368.7ZM368.7,146.99H630.4V150.64H368.7ZM368.7,150.64H627.73V154.3H368.7ZM368.7,154.3H625.06V156.13H368.7ZM368.7,156.13H622.4V159.78H368.7ZM368.7,159.78H619.73V163.44H368.7ZM368.7,163.44H617.06V165.27H368.7ZM368.7,165.27H614.4V168.92H368.7ZM368.7,168.92H611.73V172.58H368.7ZM368.7,172.58H609.06V174.41H368.7ZM368.7,174.41H606.4V176.24H368.7ZM368.7,176.24H603.73V178.06H368.7ZM368.7,178.06H601.06V179.89H368.7ZM368.7,179.89H598.39V181.72H368.7ZM368.7,181.72H595.73V183.55H368.7ZM368.7,183.55H593.06V185.38H368.7ZM368.7,185.38H590.39V187.2H368.7ZM368.7,187.2H587.73V189.03H368.7ZM368.7,189.03H582.39V190.86H368.7ZM368.7,190.86H579.73V192.69H368.7ZM374.37,192.69H574.39V194.52H374.37ZM377.03,194.52H569.06V196.34H377.03ZM379.7,196.34H566.39V198.17H379.7ZM385.03,198.17H561.06V203H385.03Z" fill="#A3A500"/>
<path d="M446.38,20.86H497.05V22.68H446.38ZM427.71,22.68H515.72V24.51H427.71ZM419.71,24.51H529.05V26.34H419.71ZM411.7,26.34H539.72V28.17H411.7ZM403.7,28.17H550.39V30H403.7ZM398.37,30H558.39V31.82H398.37ZM393.04,31.82H566.39V33.65H393.04ZM387.7,33.65H571.72V35.48H387.7ZM385.03,35.48H577.06V37.31H385.03ZM382.37,37.31H582.39V39.14H382.37ZM377.03,39.14H587.73V40.96H377.03ZM374.37,40.96H590.39V42.79H374.37ZM368.7,42.79H593.06V44.62H368.7ZM368.7,44.62H595.73V46.45H368.7ZM368.7,46.45H598.39V48.28H368.7ZM368.7,48.28H601.06V50.1H368.7ZM368.7,50.1H603.73V53.76H368.7ZM368.7,53.76H606.4V57.42H368.7ZM368.7,57.42H609.06V61.07H368.7ZM368.7,61.07H611.73V66.56H368.7ZM368.7,66.56H614.4V73.87H368.7ZM368.7,73.87H617.06V101.29H368.7ZM368.7,101.29H614.4V108.6H368.7ZM368.7,108.6H611.73V117.74H368.7ZM368.7,117.74H609.06V125.05H368.7ZM368.7,125.05H606.4V130.54H368.7ZM368.7,130.54H603.73V136.02H368.7ZM368.7,136.02H601.06V141.5H368.7ZM368.7,141.5H598.39V145.16H368.7ZM368.7,145.16H595.73V148.82H368.7ZM368.7,148.82H593.06V152.47H368.7ZM368.7,152.47H590.39V154.3H368.7ZM368.7,154.3H587.73V157.96H368.7ZM368.7,157.96H585.06V159.78H368.7ZM368.7,159.78H582.39V161.61H368.7ZM368.7,161.61H579.73V163.44H368.7ZM368.7,163.44H577.06V165.27H368.7ZM368.7,165.27H574.39V167.1H368.7ZM374.37,167.1H571.72V168.92H374.37ZM377.03,168.92H569.06V170.75H377.03ZM379.7,170.75H563.72V172.58H379.7ZM382.37,172.58H561.06V174.41H382.37ZM387.7,174.41H555.72V176.24H387.7ZM390.37,176.24H553.06V178.06H390.37ZM393.04,178.06H547.72V179.89H393.04ZM395.7,179.89H542.39V181.72H395.7ZM401.04,181.72H537.05V183.55H401.04ZM403.7,183.55H534.39V185.38H403.7ZM409.04,185.38H526.39V187.2H409.04ZM414.37,187.2H521.05V189.03H414.37ZM422.37,189.03H515.72V190.86H422.37ZM430.37,190.86H505.05V192.69H430.37ZM443.71,192.69H481.05V194.52H443.71Z" fill="#00BF7D"/>
<path d="M446.38,37.31H491.71V39.14H446.38ZM433.04,39.14H507.72V40.96H433.04ZM425.04,40.96H518.38V42.79H425.04ZM417.04,42.79H523.72V44.62H417.04ZM411.7,44.62H531.72V46.45H411.7ZM409.04,46.45H537.05V48.28H409.04ZM403.7,48.28H542.39V50.1H403.7ZM401.04,50.1H547.72V51.93H401.04ZM395.7,51.93H550.39V53.76H395.7ZM393.04,53.76H555.72V55.59H393.04ZM390.37,55.59H558.39V57.42H390.37ZM387.7,57.42H563.72V59.24H387.7ZM385.03,59.24H566.39V61.07H385.03ZM385.03,61.07H569.06V62.9H385.03ZM382.37,62.9H571.72V64.73H382.37ZM379.7,64.73H574.39V66.56H379.7ZM379.7,66.56H577.06V68.38H379.7ZM377.03,68.38H577.06V70.21H377.03ZM374.37,70.21H577.06V72.04H374.37ZM374.37,72.04H579.73V73.87H374.37ZM368.7,73.87H579.73V77.52H368.7ZM368.7,77.52H582.39V84.84H368.7ZM368.7,84.84H585.06V97.63H368.7ZM368.7,97.63H582.39V110.43H368.7ZM368.7,110.43H579.73V117.74H368.7ZM368.7,117.74H577.06V123.22H368.7ZM368.7,123.22H574.39V128.71H368.7ZM368.7,128.71H571.72V132.36H368.7ZM374.37,132.36H569.06V136.02H374.37ZM377.03,136.02H566.39V139.68H377.03ZM379.7,139.68H563.72V143.33H379.7ZM382.37,143.33H561.06V146.99H382.37ZM385.03,146.99H558.39V148.82H385.03ZM387.7,148.82H555.72V150.64H387.7ZM387.7,150.64H553.06V152.47H387.7ZM390.37,152.47H550.39V154.3H390.37ZM393.04,154.3H547.72V156.13H393.04ZM395.7,156.13H542.39V157.96H395.7ZM398.37,157.96H539.72V159.78H398.37ZM401.04,159.78H537.05V161.61H401.04ZM403.7,161.61H534.39V163.44H403.7ZM406.37,163.44H529.05V165.27H406.37ZM411.7,165.27H523.72V167.1H411.7ZM414.37,167.1H518.38V168.92H414.37ZM419.71,168.92H513.05V170.75H419.71ZM427.71,170.75H507.72V172.58H427.71ZM435.71,172.58H499.72V174.41H435.71ZM443.71,174.41H489.05V176.24H443.71Z" fill="#00B0F6"/>
<path d="M457.04,55.59H470.38V57.42H457.04ZM441.04,57.42H489.05V59.24H441.04ZM433.04,59.24H497.05V61.07H433.04ZM427.71,61.07H502.38V62.9H427.71ZM422.37,62.9H507.72V64.73H422.37ZM417.04,64.73H513.05V66.56H417.04ZM414.37,66.56H515.72V68.38H414.37ZM409.04,68.38H521.05V70.21H409.04ZM409.04,70.21H523.72V72.04H409.04ZM406.37,72.04H529.05V73.87H406.37ZM403.7,73.87H531.72V75.7H403.7ZM401.04,75.7H534.39V79.35H401.04ZM398.37,79.35H537.05V81.18H398.37ZM398.37,81.18H539.72V83.01H398.37ZM395.7,83.01H539.72V86.66H395.7ZM395.7,86.66H542.39V90.32H395.7ZM393.04,90.32H542.39V93.98H393.04ZM393.04,93.98H545.05V104.94H393.04ZM393.04,104.94H542.39V114.08H393.04ZM393.04,114.08H539.72V115.91H393.04ZM395.7,115.91H539.72V119.57H395.7ZM395.7,119.57H537.05V121.4H395.7ZM398.37,121.4H537.05V125.05H398.37ZM398.37,125.05H534.39V126.88H398.37ZM401.04,126.88H534.39V128.71H401.04ZM401.04,128.71H531.72V130.54H401.04ZM403.7,130.54H531.72V132.36H403.7ZM403.7,132.36H529.05V134.19H403.7ZM406.37,134.19H526.39V136.02H406.37ZM409.04,136.02H523.72V137.85H409.04ZM409.04,137.85H521.05V139.68H409.04ZM411.7,139.68H518.38V141.5H411.7ZM414.37,141.5H515.72V143.33H414.37ZM417.04,143.33H513.05V145.16H417.04ZM419.71,145.16H510.38V146.99H419.71ZM422.37,146.99H505.05V148.82H422.37ZM425.04,148.82H499.72V150.64H425.04ZM430.37,150.64H497.05V152.47H430.37ZM435.71,152.47H491.71V154.3H435.71ZM446.38,154.3H483.71V156.13H446.38ZM459.71,156.13H473.05V157.96H459.71Z" fill="#E76BF3"/>
</g>
<path d="M359.7,5.2H650.4V212H359.7ZM371.7,17.2V200H638.4V17.2Z" fill="#fff" fill-rule="evenodd"/>
<path d="M368,9V208.5M368,208.5V208.5M417.3,9V17.2M417.3,200V208.5M466.6,9V17.2M466.6,200V208.5M515.9,9V17.2M515.9,200V208.5M565.2,9V17.2M565.2,200V208.5M614.5,9V17.2M614.5,200V208.5M358,22.3H371.7M638.4,22.3H652M358,44.8H371.7M638.4,44.8H652M358,67.3H371.7M638.4,67.3H652M358,89.8H371.7M638.4,89.8H652M358,112.3H371.7M638.4,112.3H652M358,134.8H371.7M638.4,134.8H652M358,157.3H371.7M638.4,157.3H652M358,179.8H371.7M638.4,179.8H652M358,202.3H652M652,202.3H652" stroke="#ececec" stroke-width="0.5" fill="none"/>
<g style="filter:grayscale(1)">
<text x="151.7" y="4.6" font-family="Liberation Sans" font-size="5.3" font-weight="bold" text-anchor="middle" fill="#000" stroke="#000" stroke-width="0.12" textLength="95.5" lengthAdjust="spacingAndGlyphs" >Distribution of Cells on Tissue Slide</text>
<text x="151.5" y="12.3" font-family="Liberation Sans" font-size="4.8" font-weight="bold" text-anchor="middle" fill="#000" stroke="#000" stroke-width="0.12" textLength="46" lengthAdjust="spacingAndGlyphs" >PATID_526_SLIDE_1</text>
<text x="505.2" y="4.7" font-family="Liberation Sans" font-size="5.3" font-weight="bold" text-anchor="middle" fill="#000" stroke="#000" stroke-width="0.12" textLength="78" lengthAdjust="spacingAndGlyphs" >Tumor region on Tissue Slide</text>
<text x="151.5" y="214.3" font-family="Liberation Sans" font-size="4.3" font-weight="bold" text-anchor="middle" fill="#000" stroke="#000" stroke-width="0.12" >X</text>
<text x="505.1" y="213.9" font-family="Liberation Sans" font-size="4.3" font-weight="bold" text-anchor="middle" fill="#000" stroke="#000" stroke-width="0.12" >X</text>
<text x="151.5" y="220.9" font-family="Liberation Sans" font-size="4.0" font-weight="bold" text-anchor="middle" fill="#000" stroke="#000" stroke-width="0.12" textLength="114.5" lengthAdjust="spacingAndGlyphs" >UMICH-PANC Type: Pancreatic Ductal Adenocarcinoma (PDAC)</text>
<text x="505.2" y="221" font-family="Liberation Sans" font-size="4.0" font-weight="bold" text-anchor="middle" fill="#000" stroke="#000" stroke-width="0.12" textLength="113.8" lengthAdjust="spacingAndGlyphs" >UMICH-PANC Type: Pancreatic Ductal Adenocarcinoma (PDAC)</text>
<path d="M-1,110.9L1.9,112.5L-1,114.1M1.9,112.5H3.9" stroke="#000" stroke-width="0.9" fill="none"/>
<path d="M352,107.1L354.4,108.7L352,110.3M354.4,108.7H356.3" stroke="#000" stroke-width="0.9" fill="none"/>
<text x="304" y="96.8" font-family="Liberation Sans" font-size="4.8" font-weight="bold" text-anchor="start" fill="#000" stroke="#000" stroke-width="0.12" textLength="20.8" lengthAdjust="spacingAndGlyphs" >Cell Type</text>
<text x="313" y="104.1" font-family="Liberation Sans" font-size="3.8" font-weight="bold" text-anchor="start" fill="#000" stroke="#000" stroke-width="0.12" >Epithelial</text>
<text x="313" y="111" font-family="Liberation Sans" font-size="3.8" font-weight="bold" text-anchor="start" fill="#000" stroke="#000" stroke-width="0.12" >HelperT</text>
<text x="313" y="117.5" font-family="Liberation Sans" font-size="3.8" font-weight="bold" text-anchor="start" fill="#000" stroke="#000" stroke-width="0.12" >PDL1_CD8</text>
<text x="313" y="124.3" font-family="Liberation Sans" font-size="3.8" font-weight="bold" text-anchor="start" fill="#000" stroke="#000" stroke-width="0.12" >CD4</text>
<text x="313" y="130.8" font-family="Liberation Sans" font-size="3.8" font-weight="bold" text-anchor="start" fill="#000" stroke="#000" stroke-width="0.12" >CTLs</text>
<text x="658.4" y="92.7" font-family="Liberation Sans" font-size="4.8" font-weight="bold" text-anchor="start" fill="#000" stroke="#000" stroke-width="0.12" textLength="20" lengthAdjust="spacingAndGlyphs" >Category</text>
<text x="666.8" y="100.6" font-family="Liberation Sans" font-size="3.8" font-weight="bold" text-anchor="start" fill="#000" stroke="#000" stroke-width="0.12" >Very Low</text>
<text x="666.8" y="107.1" font-family="Liberation Sans" font-size="3.8" font-weight="bold" text-anchor="start" fill="#000" stroke="#000" stroke-width="0.12" >Low</text>
<text x="666.8" y="113.9" font-family="Liberation Sans" font-size="3.8" font-weight="bold" text-anchor="start" fill="#000" stroke="#000" stroke-width="0.12" >Medium</text>
<text x="666.8" y="120.6" font-family="Liberation Sans" font-size="3.8" font-weight="bold" text-anchor="start" fill="#000" stroke="#000" stroke-width="0.12" >High</text>
<text x="666.8" y="127.1" font-family="Liberation Sans" font-size="3.8" font-weight="bold" text-anchor="start" fill="#000" stroke="#000" stroke-width="0.12" >Very High</text>
<text x="85.0" y="242.6" font-family="Liberation Sans" font-weight="bold" font-size="12" fill="#000">(a)</text>
<text x="103.6" y="242.6" font-family="Liberation Serif" font-size="12.2" fill="#000" textLength="144.6" lengthAdjust="spacingAndGlyphs">Cell Point patterns in a TME</text>
<text x="378.2" y="242.9" font-family="Liberation Sans" font-weight="bold" font-size="12" fill="#000">(b)</text>
<text x="397.8" y="242.9" font-family="Liberation Serif" font-size="12.2" fill="#000" textLength="263.2" lengthAdjust="spacingAndGlyphs">Tumor subregions stratified by cellular heterogeneity</text>
</g>
<path d="M305.7,102.8h2.6M307,101.5v2.6" stroke="#17a078" stroke-width="0.9" fill="none"/>
<path d="M306.1,108.8l1.8,1.8M306.1,110.6l1.8,-1.8" stroke="#e78ac3" stroke-width="0.7" fill="none"/>
<path d="M305.6,115.2h2.8l-1.4,2.4z" fill="#4a90d9"/>
<circle cx="307" cy="123" r="1.1" fill="#efd830"/>
<path d="M307,128l1.5,1.5l-1.5,1.5l-1.5,-1.5z" fill="#e4452b"/>
<rect x="658.4" y="95.3" width="6.6" height="6.8" fill="#F8766D"/>
<rect x="658.4" y="102.1" width="6.6" height="6.8" fill="#A3A500"/>
<rect x="658.4" y="108.9" width="6.6" height="6.8" fill="#00BF7D"/>
<rect x="658.4" y="115.7" width="6.6" height="6.8" fill="#00B0F6"/>
<rect x="658.4" y="122.5" width="6.6" height="6.8" fill="#E76BF3"/>
</svg>
</body></html>
